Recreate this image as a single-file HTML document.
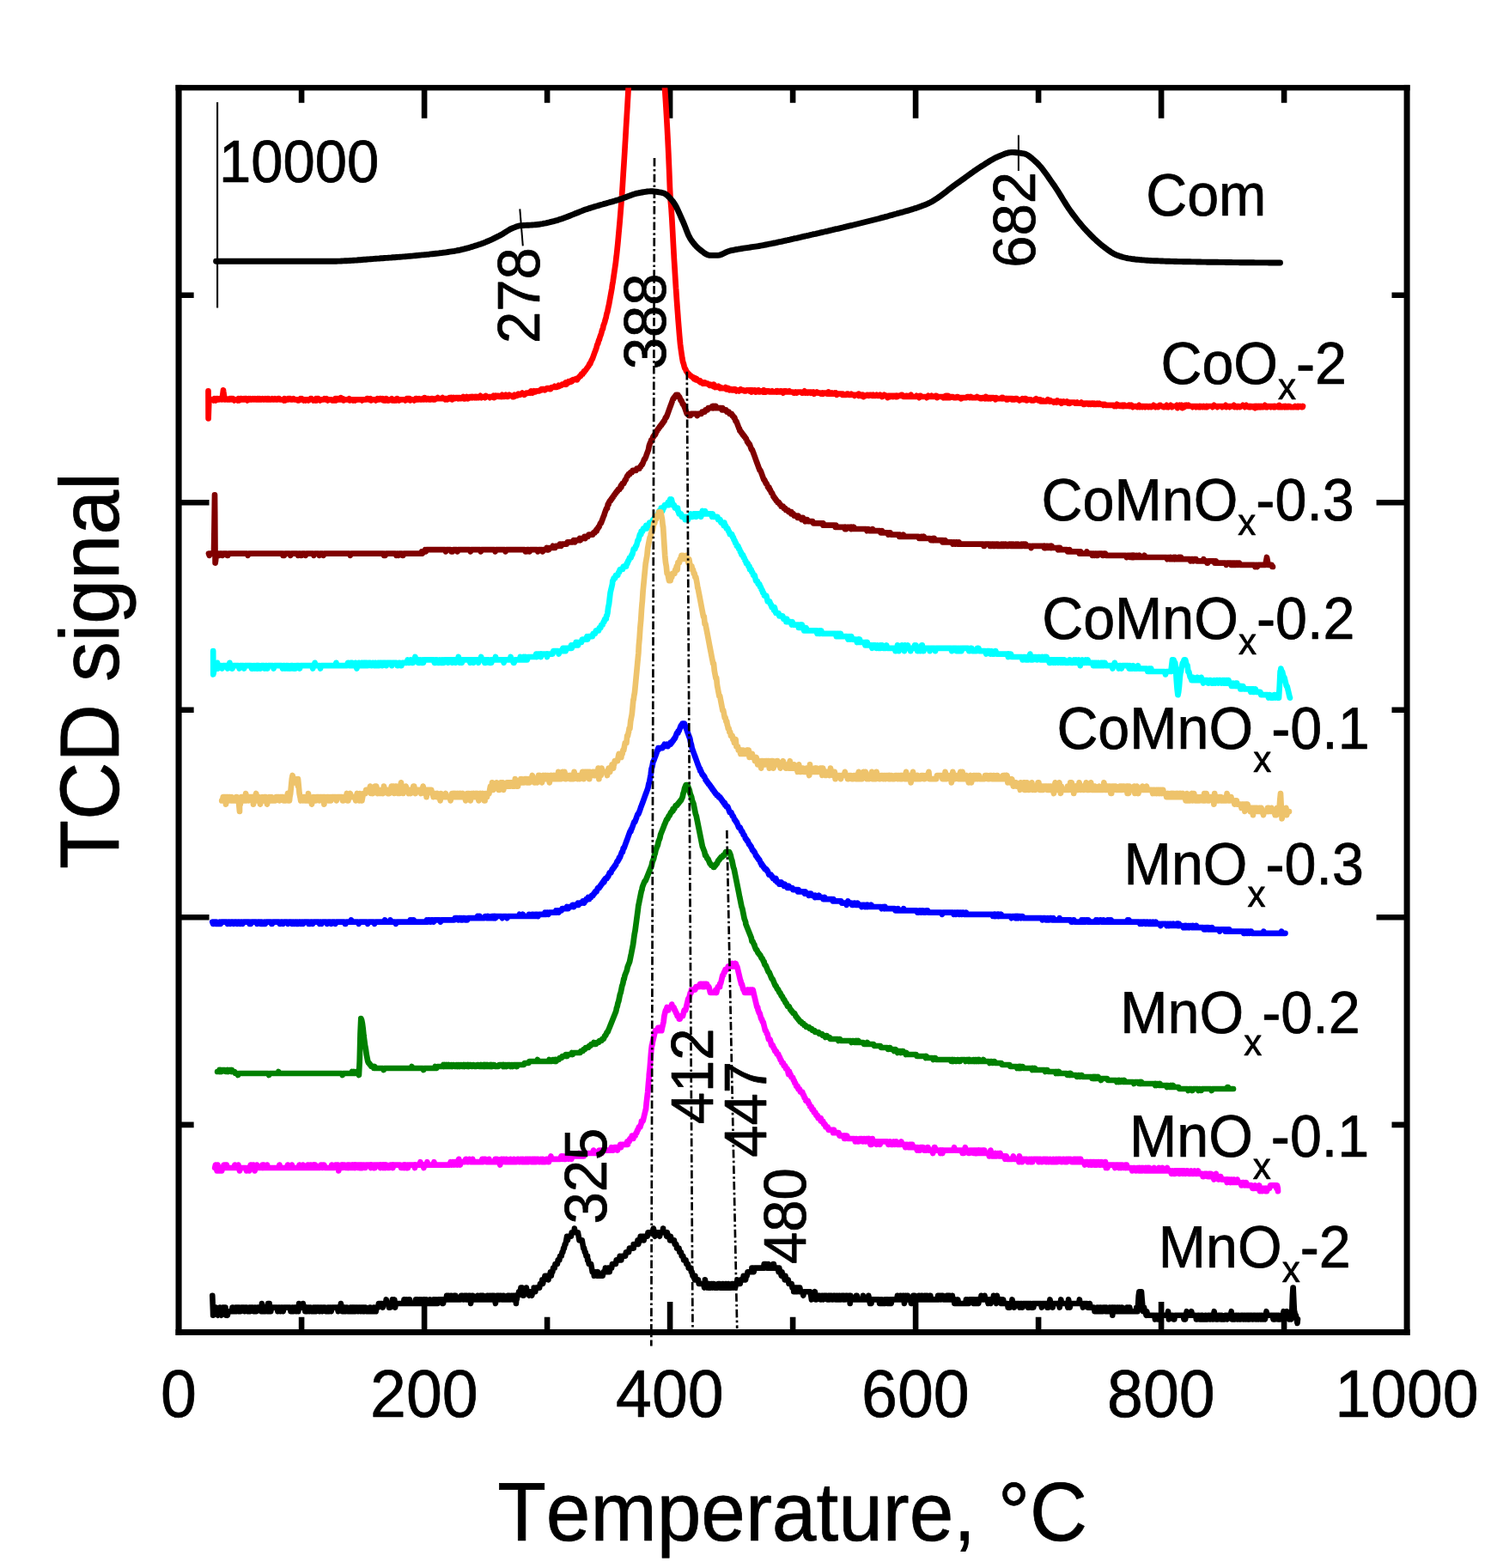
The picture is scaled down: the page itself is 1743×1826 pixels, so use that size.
<!DOCTYPE html>
<html lang="en"><head><meta charset="utf-8"><title>TCD signal vs Temperature</title>
<style>
html,body{margin:0;padding:0;background:#fff;}
body{width:1743px;height:1826px;overflow:hidden;}
svg{display:block;}
</style></head>
<body>
<svg width="1743" height="1826" viewBox="0 0 1743 1826" font-family="'Liberation Sans', sans-serif" fill="#000" style="font-kerning:none" text-rendering="geometricPrecision" stroke-linejoin="round">
<rect x="0" y="0" width="1743" height="1826" fill="#fff"/>
<defs><clipPath id="plot"><rect x="208.05" y="102.15" width="1430.0" height="1449.3"/></clipPath></defs>
<line x1="253.1" y1="119" x2="253.1" y2="358.5" stroke="#000" stroke-width="2.1"/>
<rect x="204.50" y="98.90" width="7.1" height="1456.00"/>
<rect x="1634.60" y="98.90" width="7.0" height="1456.00"/>
<rect x="204.50" y="98.90" width="1437.10" height="6.5"/>
<rect x="204.50" y="1548.00" width="1437.10" height="6.9"/>
<path d="M351.1 102.15 v17.6 M351.1 1551.45 v-17.6 M494.1 102.15 v35.5 M494.1 1551.45 v-35.5 M637.1 102.15 v17.6 M637.1 1551.45 v-17.6 M780.1 102.15 v35.5 M780.1 1551.45 v-35.5 M923.1 102.15 v17.6 M923.1 1551.45 v-17.6 M1066.1 102.15 v35.5 M1066.1 1551.45 v-35.5 M1209.1 102.15 v17.6 M1209.1 1551.45 v-17.6 M1352.1 102.15 v35.5 M1352.1 1551.45 v-35.5 M1495.1 102.15 v17.6 M1495.1 1551.45 v-17.6 M208.05 343.7 h17.6 M1638.1 343.7 h-17.6 M208.05 585.2 h35.5 M1638.1 585.2 h-35.5 M208.05 826.8 h17.6 M1638.1 826.8 h-17.6 M208.05 1068.3 h35.5 M1638.1 1068.3 h-35.5 M208.05 1309.9 h17.6 M1638.1 1309.9 h-17.6" stroke="#000" stroke-width="6.6" fill="none"/>
<g clip-path="url(#plot)">
<polyline points="242.5,455.4 242.6,487.3 243.3,467.5 243.5,465.3 244.1,464.2 244.9,465.3 248.1,465.3 248.9,466.4 249.7,464.2 250.5,465.3 251.3,466.4 252.1,464.2 252.9,465.3 253.7,464.2 254.5,465.3 255.3,465.3 256.1,464.2 257.7,464.2 258.5,465.3 258.5,464.2 259.3,459.8 260.0,454.3 260.1,455.4 260.9,460.9 261.5,465.3 262.5,465.3 263.3,464.2 264.1,465.3 266.5,465.3 267.3,464.2 268.1,465.3 268.9,464.2 269.7,464.2 270.5,465.3 271.3,464.2 272.1,465.3 272.9,466.4 273.7,465.3 276.1,465.3 276.9,466.4 277.7,464.2 278.5,466.4 279.3,465.3 280.1,464.2 280.9,464.2 281.7,465.3 283.3,465.3 284.1,464.2 284.9,465.3 285.7,464.2 286.5,464.2 287.3,465.3 288.1,466.4 288.9,465.3 289.7,464.2 290.5,465.3 291.3,464.2 292.1,465.3 293.7,465.3 294.5,464.2 295.3,465.3 296.1,465.3 296.9,464.2 297.7,465.3 299.3,465.3 300.0,464.2 300.1,465.3 300.9,464.2 301.7,465.3 302.5,464.2 303.3,465.3 304.9,465.3 305.7,464.2 306.5,465.3 308.1,465.3 308.9,464.2 309.7,465.3 310.5,465.3 311.3,464.2 312.1,465.3 312.9,464.2 313.7,465.3 316.1,465.3 316.9,464.2 317.7,465.3 319.3,465.3 320.1,464.2 320.9,465.3 323.3,465.3 324.1,464.2 324.9,464.2 325.7,465.3 329.7,465.3 330.5,466.4 331.3,464.2 332.1,466.4 332.9,465.3 334.5,465.3 335.3,464.2 336.1,465.3 336.9,464.2 337.7,464.2 338.5,465.3 340.9,465.3 341.7,464.2 342.5,465.3 345.7,465.3 346.5,466.4 348.1,466.4 348.9,465.3 349.7,464.2 350.5,465.3 351.3,464.2 352.1,465.3 352.9,465.3 353.7,466.4 354.5,465.3 355.3,465.3 356.1,466.4 356.9,465.3 358.5,465.3 359.3,466.4 360.1,465.3 360.9,465.3 361.7,464.2 362.5,464.2 363.3,465.3 364.1,465.3 364.9,466.4 365.7,465.3 366.5,465.3 367.3,466.4 368.1,464.2 368.9,466.4 369.7,464.2 370.5,464.2 371.3,465.3 372.1,465.3 372.9,466.4 373.7,465.3 376.9,465.3 377.7,464.2 378.5,465.3 379.3,465.3 380.1,464.2 380.9,465.3 381.7,466.4 382.5,465.3 385.7,465.3 386.5,466.4 389.7,466.4 390.5,464.2 391.3,466.4 392.1,464.2 392.9,465.3 393.7,464.2 394.5,465.3 396.1,465.3 396.9,463.1 397.7,465.3 398.5,465.3 399.3,464.2 400.1,466.4 400.9,465.3 405.7,465.3 406.5,464.2 407.3,466.4 408.1,465.3 410.5,465.3 411.3,466.4 412.1,465.3 412.9,465.3 413.7,466.4 414.5,465.3 420.9,465.3 421.7,466.4 422.5,465.3 426.5,465.3 427.3,464.2 428.1,464.2 428.9,465.3 430.5,465.3 431.3,464.2 432.1,466.4 432.9,465.3 436.9,465.3 437.7,466.4 438.5,465.3 439.3,464.2 440.1,465.3 441.7,465.3 442.5,464.2 443.3,464.2 444.1,465.3 444.9,465.3 445.7,464.2 446.5,466.4 447.3,466.4 448.1,465.3 448.9,466.4 449.7,464.2 450.0,465.3 450.5,465.3 451.3,466.4 452.1,465.3 452.9,466.4 453.7,465.3 455.3,465.3 456.1,464.2 456.9,466.4 457.7,465.3 458.5,465.3 459.3,466.4 460.1,465.3 460.9,466.4 461.7,466.4 462.5,464.2 463.3,465.3 464.1,465.3 464.9,466.4 465.7,465.3 471.3,465.3 472.1,466.4 472.9,465.3 473.7,464.2 474.5,464.2 475.3,465.3 476.1,464.2 476.9,464.2 477.7,466.4 478.5,465.3 481.7,465.3 482.5,466.4 483.3,465.3 484.1,464.2 484.9,464.2 485.7,465.3 487.3,465.3 488.1,464.2 488.9,465.3 491.3,465.3 492.1,464.2 492.9,465.3 493.7,465.3 494.5,463.1 495.3,464.2 496.1,465.3 496.9,465.3 497.7,464.2 498.5,464.2 499.3,465.3 501.7,465.3 502.5,464.2 503.3,464.2 504.1,465.3 506.5,465.3 507.3,464.2 508.9,464.2 509.7,463.1 510.5,464.2 514.5,464.2 515.3,463.1 516.1,464.2 517.7,464.2 518.5,465.3 519.3,464.2 520.1,464.2 520.9,465.3 521.7,464.2 522.5,464.2 523.3,463.1 524.1,463.1 524.9,464.2 525.7,463.1 526.5,465.3 527.3,464.2 528.1,463.1 528.9,464.2 529.7,464.2 530.5,463.1 532.9,463.1 533.7,464.2 534.5,463.1 535.3,463.1 536.1,464.2 536.9,464.2 537.7,463.1 538.5,463.1 539.3,462.0 540.1,464.2 540.9,463.1 541.7,464.2 542.5,463.1 543.3,462.0 544.1,463.1 544.9,464.2 545.7,463.1 546.5,463.1 547.3,462.0 548.1,462.0 548.9,463.1 549.7,462.0 550.5,463.1 551.3,462.0 552.1,462.0 552.9,463.1 553.7,462.0 554.5,463.1 555.3,462.0 556.1,463.1 557.7,463.1 558.5,462.0 559.3,460.9 560.0,463.1 560.1,462.0 560.9,463.1 561.7,462.0 564.1,462.0 564.9,463.1 565.7,460.9 566.5,462.0 569.7,462.0 570.5,463.1 571.3,462.0 573.7,462.0 574.5,460.9 575.3,463.1 576.1,462.0 576.9,460.9 577.7,462.0 578.5,460.9 580.1,460.9 580.9,462.0 581.7,462.0 582.5,460.9 583.3,460.9 584.1,462.0 584.9,459.8 585.7,460.9 586.5,462.0 587.3,462.0 588.1,460.9 588.9,459.8 589.7,460.9 590.5,462.0 591.3,462.0 592.1,460.9 592.9,459.8 593.7,460.9 596.1,460.9 596.9,462.0 597.7,460.9 598.5,462.0 599.3,459.8 600.1,460.9 601.6,460.9 601.7,459.8 602.5,459.8 603.3,458.7 604.1,459.8 605.7,459.8 606.5,458.7 607.3,458.7 608.1,457.6 608.9,458.7 609.7,458.7 610.5,459.8 611.3,458.7 612.1,458.7 612.9,457.6 616.1,457.6 616.9,456.5 617.7,457.6 618.5,455.4 619.3,456.5 620.1,457.6 620.9,456.5 621.7,455.4 622.5,456.5 623.3,456.5 624.1,455.4 628.1,455.4 628.9,454.3 630.3,454.3 630.5,453.2 633.7,453.2 634.5,454.3 635.3,453.2 636.1,453.2 636.9,452.1 639.3,452.1 640.1,453.2 640.9,453.2 641.7,452.1 642.5,451.0 644.9,451.0 645.7,449.9 646.5,451.0 648.1,451.0 648.9,449.9 650.0,449.9 650.5,448.8 651.3,449.9 652.1,448.8 653.7,448.8 654.5,447.7 656.9,447.7 657.7,446.6 658.5,445.5 659.3,447.7 660.1,446.6 660.9,445.5 661.7,444.4 662.0,445.5 662.5,445.5 663.3,444.4 664.1,444.4 664.9,443.3 665.7,444.4 666.5,443.3 667.3,442.2 669.7,442.2 670.5,441.1 671.3,441.1 672.1,442.2 672.9,440.0 673.7,440.0 674.5,438.9 675.3,437.8 676.1,437.8 676.9,435.6 678.5,435.6 679.3,433.4 680.0,433.4 680.1,432.3 680.9,432.3 681.7,431.2 682.5,430.1 683.3,429.0 684.1,427.9 684.9,426.8 685.7,425.7 686.5,423.5 687.3,423.5 687.4,422.4 688.1,421.3 688.9,419.1 689.7,418.0 690.5,415.8 691.3,413.6 692.1,411.4 692.9,409.2 693.0,409.2 693.7,407.0 694.5,404.8 695.3,401.5 696.1,400.4 696.9,397.1 697.7,394.9 697.7,396.0 698.5,392.7 699.3,390.5 700.1,388.3 700.9,385.0 701.7,382.8 702.0,382.8 702.5,379.5 703.3,377.3 704.1,375.1 704.9,371.8 705.7,369.6 706.0,367.4 706.5,365.2 707.3,363.0 708.1,358.6 708.9,355.3 709.5,352.0 709.7,350.9 710.5,346.5 711.3,342.1 712.1,337.7 712.5,335.5 712.9,332.2 713.7,327.8 714.5,322.3 715.3,316.8 716.1,311.3 716.9,305.8 717.7,298.1 717.7,299.2 718.5,291.5 719.3,283.8 720.1,275.0 720.9,266.2 721.0,265.1 721.7,257.4 722.5,247.5 723.3,237.6 723.9,229.9 724.1,227.7 724.9,215.6 725.7,202.4 726.5,190.3 727.3,177.1 728.0,165.0 728.1,163.9 728.9,149.6 729.7,136.4 730.5,123.2 731.3,108.9 732.0,95.7" fill="none" stroke="#ff0000" stroke-width="6.7" stroke-linejoin="round" stroke-linecap="round"/>
<polyline points="773.5,95.7 774.3,106.7 775.1,118.8 775.9,132.0 776.7,146.3 777.5,161.7 778.3,178.2 778.4,180.4 779.1,196.9 779.9,217.8 780.5,229.9 780.7,233.2 781.5,242.0 781.6,243.1 782.3,254.1 783.1,268.4 783.9,283.8 784.7,298.1 784.8,300.3 785.5,311.3 786.3,324.5 787.0,335.5 787.1,336.6 787.9,348.7 788.7,359.7 789.3,367.4 789.5,370.7 790.3,380.6 791.1,390.5 791.9,399.3 792.0,400.4 792.7,405.9 793.5,411.4 794.3,416.9 795.1,421.3 795.5,422.4 795.9,423.5 796.7,426.8 797.5,429.0 798.3,430.1 799.1,432.3 799.9,433.4 800.0,433.4 800.7,434.5 801.5,435.6 802.3,435.6 803.1,436.7 803.9,437.8 804.7,437.8 805.5,438.9 806.5,438.9 807.1,440.0 807.9,441.1 808.7,440.0 809.5,441.1 810.3,442.2 811.1,441.1 811.9,442.2 812.7,443.3 813.5,443.3 814.3,444.4 815.1,443.3 815.9,445.5 817.5,445.5 818.3,446.6 819.1,445.5 819.9,446.6 820.7,446.6 820.9,445.5 821.5,446.6 823.9,446.6 824.7,447.7 825.5,447.7 826.3,448.8 827.1,447.7 827.9,448.8 829.5,448.8 830.3,449.9 831.1,447.7 831.9,449.9 832.7,451.0 833.5,449.9 834.3,449.9 835.1,451.0 835.9,451.0 836.7,449.9 837.5,451.0 838.3,452.1 839.1,451.0 839.9,452.1 843.9,452.1 844.7,451.0 845.5,453.2 846.3,452.1 847.1,453.2 847.9,452.1 848.7,453.2 849.5,454.3 850.3,453.2 851.1,453.2 851.9,454.3 853.5,454.3 854.3,453.2 855.1,454.3 855.9,453.2 856.7,454.3 857.5,455.4 858.2,454.3 859.9,454.3 860.7,455.4 861.5,454.3 862.3,453.2 863.1,454.3 865.5,454.3 866.3,455.4 868.7,455.4 869.5,454.3 871.9,454.3 872.7,455.4 873.5,454.3 874.3,455.4 875.1,456.5 875.9,454.3 876.7,455.4 877.5,455.4 878.3,454.3 879.1,454.3 879.9,456.5 880.7,455.4 882.3,455.4 883.1,454.3 883.9,456.5 884.7,456.5 885.5,455.4 887.9,455.4 888.7,456.5 889.5,454.3 890.3,456.5 891.1,455.4 891.9,456.5 892.7,455.4 895.1,455.4 895.9,456.5 898.3,456.5 899.1,455.4 899.9,456.5 903.1,456.5 903.9,455.4 904.7,456.5 905.5,455.4 906.3,456.5 907.9,456.5 908.7,455.4 909.5,455.4 910.3,456.5 911.1,456.5 911.9,457.6 912.7,455.4 915.1,455.4 915.9,456.5 918.3,456.5 919.1,455.4 919.9,456.5 923.1,456.5 923.9,457.6 925.5,457.6 926.3,456.5 927.1,457.6 927.9,457.6 928.7,456.5 932.7,456.5 933.5,457.6 935.1,457.6 935.9,456.5 936.7,455.4 937.5,457.6 938.3,457.6 939.1,456.5 939.9,456.5 940.7,457.6 941.5,456.5 943.1,456.5 943.9,457.6 944.2,456.5 944.7,456.5 945.5,457.6 946.3,457.6 947.1,456.5 947.9,458.7 948.7,457.6 950.3,457.6 951.1,456.5 951.9,457.6 955.1,457.6 955.9,458.7 956.7,458.7 957.5,457.6 958.3,458.7 959.1,457.6 962.3,457.6 963.1,458.7 963.9,458.7 964.7,456.5 965.5,458.7 966.3,457.6 967.1,458.7 967.9,458.7 968.7,457.6 969.5,458.7 971.1,458.7 971.9,457.6 972.7,458.7 973.5,457.6 974.3,459.8 975.1,458.7 979.9,458.7 980.7,459.8 981.5,458.7 982.3,459.8 985.5,459.8 986.3,458.7 987.1,458.7 987.9,459.8 990.3,459.8 991.1,458.7 991.9,459.8 994.3,459.8 995.1,460.9 995.9,459.8 999.1,459.8 999.9,460.9 1000.0,458.7 1000.7,459.8 1001.5,459.8 1002.3,460.9 1003.1,459.8 1003.9,460.9 1004.7,459.8 1005.5,462.0 1006.3,460.9 1008.7,460.9 1009.5,459.8 1010.3,459.8 1011.1,460.9 1011.9,460.9 1012.7,459.8 1014.3,459.8 1015.1,460.9 1015.9,460.9 1016.7,459.8 1017.5,460.9 1019.9,460.9 1020.7,459.8 1021.5,460.9 1023.9,460.9 1024.7,459.8 1025.5,460.9 1026.3,460.9 1027.1,462.0 1027.9,460.9 1028.7,460.9 1029.5,459.8 1030.3,460.9 1032.7,460.9 1033.5,463.1 1034.3,460.9 1035.9,460.9 1036.7,462.0 1037.5,460.9 1039.1,460.9 1039.9,462.0 1040.7,460.9 1042.3,460.9 1043.1,462.0 1043.9,460.9 1044.7,462.0 1045.5,460.9 1048.7,460.9 1049.5,459.8 1050.3,459.8 1051.1,460.9 1051.9,462.0 1054.3,462.0 1055.1,460.9 1055.9,460.9 1056.7,462.0 1058.3,462.0 1059.1,460.9 1059.9,460.9 1060.7,459.8 1061.5,462.0 1066.3,462.0 1067.1,460.9 1067.9,462.0 1069.5,462.0 1070.3,463.1 1071.1,460.9 1071.9,460.9 1072.7,462.0 1078.3,462.0 1079.1,463.1 1079.9,462.0 1080.7,460.9 1081.5,462.0 1083.9,462.0 1084.7,460.9 1085.5,462.0 1088.7,462.0 1089.5,460.9 1090.3,460.9 1091.1,463.1 1091.9,462.0 1097.5,462.0 1098.3,463.1 1099.1,462.0 1099.9,463.1 1100.7,463.1 1101.5,460.9 1102.3,463.1 1103.1,463.1 1103.9,460.9 1104.7,463.1 1106.3,463.1 1107.1,462.0 1109.5,462.0 1110.3,463.1 1113.5,463.1 1114.3,462.0 1115.1,462.0 1115.9,463.1 1118.3,463.1 1119.1,464.2 1119.9,463.1 1125.5,463.1 1126.3,462.0 1127.9,462.0 1128.7,463.1 1129.5,463.1 1130.3,462.0 1131.1,463.1 1136.7,463.1 1137.5,462.0 1138.3,463.1 1140.7,463.1 1141.5,464.2 1143.1,464.2 1143.9,463.1 1146.3,463.1 1147.1,464.2 1147.9,462.0 1148.7,464.2 1149.5,464.2 1150.3,463.1 1151.1,464.2 1151.9,463.1 1152.7,463.1 1153.5,464.2 1154.3,463.1 1156.7,463.1 1157.5,464.2 1158.3,464.2 1159.1,465.3 1159.9,463.1 1160.7,464.2 1165.5,464.2 1166.3,463.1 1167.1,464.2 1167.9,463.1 1168.7,464.2 1171.1,464.2 1171.9,465.3 1172.0,464.2 1172.7,464.2 1173.5,465.3 1174.3,464.2 1177.5,464.2 1178.3,465.3 1179.1,464.2 1179.9,465.3 1181.5,465.3 1182.3,464.2 1183.9,464.2 1184.7,465.3 1186.3,465.3 1187.1,466.4 1187.9,465.3 1189.5,465.3 1190.3,464.2 1191.1,465.3 1192.7,465.3 1193.5,464.2 1194.3,464.2 1195.1,466.4 1195.9,466.4 1196.7,465.3 1199.9,465.3 1200.7,466.4 1203.9,466.4 1204.7,465.3 1205.5,465.3 1206.3,464.2 1207.1,465.3 1207.9,465.3 1208.7,466.4 1209.5,466.4 1210.3,465.3 1211.1,465.3 1211.9,467.5 1212.7,467.5 1213.5,466.4 1214.3,466.4 1215.1,467.5 1218.3,467.5 1219.1,466.4 1219.9,465.3 1220.7,466.4 1221.5,466.4 1222.3,467.5 1223.1,466.4 1223.9,467.5 1226.3,467.5 1227.1,468.6 1227.9,467.5 1229.5,467.5 1230.3,468.6 1231.1,466.4 1231.9,467.5 1233.5,467.5 1234.3,468.6 1235.1,467.5 1235.9,469.7 1236.7,468.6 1237.5,468.6 1238.3,467.5 1239.1,468.6 1241.5,468.6 1242.3,467.5 1243.1,468.6 1243.8,468.6 1243.9,469.7 1244.7,468.6 1245.5,469.7 1246.3,468.6 1251.1,468.6 1251.9,469.7 1253.5,469.7 1254.3,468.6 1255.1,469.7 1258.3,469.7 1259.1,468.6 1259.9,469.7 1260.7,469.7 1261.5,470.8 1262.3,469.7 1263.1,470.8 1263.9,469.7 1266.3,469.7 1267.1,470.8 1267.9,470.8 1268.7,469.7 1269.5,470.8 1270.3,470.8 1271.1,469.7 1272.7,469.7 1273.5,470.8 1274.3,469.7 1275.1,470.8 1276.7,470.8 1277.5,469.7 1278.3,470.8 1279.1,470.8 1279.9,469.7 1280.7,470.8 1283.9,470.8 1284.7,471.9 1285.5,470.8 1286.3,470.8 1287.1,471.9 1296.7,471.9 1297.5,473.0 1298.3,471.9 1299.1,471.9 1299.9,473.0 1300.7,470.8 1301.5,471.9 1303.1,471.9 1303.9,473.0 1304.7,473.0 1305.5,471.9 1306.3,471.9 1307.1,473.0 1307.9,471.9 1308.7,473.0 1309.5,471.9 1310.3,473.0 1313.5,473.0 1314.3,471.9 1315.1,473.0 1315.9,471.9 1316.7,473.0 1317.5,471.9 1318.3,473.0 1319.1,474.1 1319.9,473.0 1323.1,473.0 1323.9,474.1 1324.7,474.1 1325.5,473.0 1326.3,471.9 1327.1,474.1 1327.9,473.0 1330.0,473.0 1330.3,474.1 1331.1,473.0 1332.7,473.0 1333.5,474.1 1334.3,473.0 1335.9,473.0 1336.7,474.1 1337.5,474.1 1338.3,473.0 1339.1,473.0 1339.9,474.1 1340.7,474.1 1341.5,473.0 1342.3,473.0 1343.1,471.9 1343.9,473.0 1344.7,473.0 1345.5,474.1 1346.3,473.0 1347.1,473.0 1347.9,474.1 1348.7,474.1 1349.5,473.0 1350.3,471.9 1351.1,471.9 1351.9,473.0 1353.5,473.0 1354.3,474.1 1355.9,474.1 1356.7,473.0 1357.5,473.0 1358.3,471.9 1359.1,474.1 1359.9,473.0 1360.7,474.1 1361.5,473.0 1362.3,473.0 1363.1,471.9 1363.9,473.0 1364.7,474.1 1365.5,473.0 1369.5,473.0 1370.3,471.9 1371.1,475.2 1371.9,473.0 1372.7,473.0 1373.5,471.9 1374.3,473.0 1375.1,473.0 1375.9,471.9 1376.7,475.2 1377.5,473.0 1378.3,473.0 1379.1,474.1 1379.9,471.9 1380.7,473.0 1381.5,471.9 1382.3,473.0 1383.1,473.0 1383.9,471.9 1384.7,473.0 1387.9,473.0 1388.7,474.1 1389.5,473.0 1391.9,473.0 1392.7,474.1 1393.5,473.0 1394.3,473.0 1395.1,474.1 1395.9,474.1 1396.7,473.0 1397.5,474.1 1398.3,473.0 1399.1,473.0 1399.9,474.1 1400.7,474.1 1401.5,473.0 1402.3,474.1 1403.9,474.1 1404.7,473.0 1405.5,474.1 1406.3,473.0 1411.1,473.0 1411.9,474.1 1412.7,473.0 1413.5,471.9 1414.3,473.0 1416.7,473.0 1417.5,474.1 1418.3,473.0 1422.3,473.0 1423.1,474.1 1423.9,473.0 1426.3,473.0 1427.1,471.9 1427.9,474.1 1428.7,473.0 1431.1,473.0 1431.9,474.1 1432.7,473.0 1435.9,473.0 1436.7,471.9 1437.5,474.1 1438.3,473.0 1439.9,473.0 1440.7,474.1 1441.5,473.0 1442.3,473.0 1443.1,474.1 1443.9,474.1 1444.7,473.0 1446.3,473.0 1447.1,471.9 1447.9,473.0 1448.7,473.0 1449.5,474.1 1450.3,473.0 1451.1,471.9 1451.9,473.0 1452.7,473.0 1453.5,474.1 1454.3,474.1 1455.1,473.0 1455.9,474.1 1456.7,473.0 1457.5,473.0 1458.3,474.1 1459.1,474.1 1459.9,473.0 1460.7,473.0 1461.5,475.2 1462.3,473.0 1463.1,474.1 1463.9,473.0 1464.7,474.1 1465.5,473.0 1466.3,474.1 1467.1,473.0 1467.9,474.1 1468.7,473.0 1469.5,474.1 1471.1,474.1 1471.9,473.0 1472.7,471.9 1473.5,473.0 1474.3,474.1 1475.1,473.0 1475.9,474.1 1476.7,473.0 1479.1,473.0 1479.9,474.1 1480.7,473.0 1482.3,473.0 1483.1,474.1 1483.9,473.0 1484.7,474.1 1485.5,473.0 1487.1,473.0 1487.9,474.1 1488.7,474.1 1489.5,471.9 1490.3,474.1 1491.1,473.0 1491.9,474.1 1493.5,474.1 1494.3,473.0 1495.1,473.0 1495.9,474.1 1496.7,473.0 1497.5,474.1 1498.3,474.1 1499.1,473.0 1499.9,473.0 1500.0,474.1 1500.7,473.0 1501.5,473.0 1502.3,474.1 1507.1,474.1 1507.9,473.0 1508.7,474.1 1510.3,474.1 1511.1,473.0 1511.9,474.1 1512.7,473.0 1514.3,473.0 1515.1,474.1 1516.7,474.1 1517.0,473.0" fill="none" stroke="#ff0000" stroke-width="6.7" stroke-linejoin="round" stroke-linecap="round"/>

<polyline points="251.6,304.2 386.5,304.2 387.6,304.2 389.6,304.2 391.6,304.2 393.6,304.1 395.6,304.1 397.6,304.0 399.6,303.9 401.6,303.8 403.6,303.7 405.6,303.6 407.6,303.5 409.6,303.4 411.6,303.2 413.6,303.1 415.6,303.0 417.6,302.8 419.6,302.7 421.6,302.5 423.6,302.3 425.6,302.2 427.6,302.0 429.6,301.9 431.6,301.7 433.6,301.6 435.6,301.4 437.6,301.2 439.6,301.1 441.6,301.0 443.6,300.8 443.8,300.8 445.6,300.7 447.6,300.5 449.6,300.4 451.6,300.3 453.6,300.1 455.6,300.0 457.6,299.8 459.6,299.7 461.6,299.5 463.6,299.4 465.6,299.2 467.6,299.1 469.6,298.9 471.6,298.8 473.6,298.6 475.6,298.4 477.6,298.2 479.6,298.1 481.6,297.9 483.6,297.7 485.6,297.5 486.9,297.4 487.6,297.3 489.6,297.1 491.6,296.9 493.6,296.8 495.6,296.6 497.6,296.4 499.6,296.2 501.6,295.9 503.6,295.7 505.6,295.5 507.6,295.3 509.6,295.1 511.6,294.8 513.6,294.6 515.6,294.3 517.6,294.1 519.6,293.8 521.6,293.5 523.6,293.2 525.6,292.9 527.6,292.6 529.6,292.3 529.9,292.2 531.6,291.9 533.6,291.5 535.6,291.1 537.6,290.6 539.6,290.2 541.6,289.6 543.6,289.1 545.6,288.6 547.6,288.0 549.6,287.4 551.6,286.8 553.6,286.1 555.6,285.5 557.6,284.8 558.6,284.5 559.6,284.2 561.6,283.4 563.6,282.7 565.6,281.9 567.6,281.0 569.6,280.2 571.6,279.3 573.6,278.4 575.6,277.4 577.6,276.4 579.6,275.4 581.5,274.5 581.6,274.4 583.6,273.4 585.6,272.2 587.6,270.9 589.6,269.6 591.6,268.4 593.6,267.2 595.6,266.2 596.6,265.8 597.6,265.4 599.6,264.6 601.6,263.8 603.6,263.2 605.6,262.8 606.0,262.8 607.6,262.6 609.6,262.5 611.6,262.4 613.6,262.3 615.6,262.2 617.6,262.1 619.6,262.0 621.6,261.9 623.0,261.8 623.6,261.7 625.6,261.5 627.6,261.3 629.6,260.9 631.6,260.6 633.6,260.2 635.6,259.8 637.6,259.3 639.6,258.9 641.6,258.4 643.6,257.9 644.0,257.8 645.6,257.4 647.6,256.8 649.6,256.3 651.6,255.6 653.6,254.9 655.6,254.2 657.6,253.5 659.6,252.8 661.6,252.0 663.6,251.2 665.6,250.4 667.6,249.6 669.6,248.8 671.6,248.0 673.6,247.2 675.6,246.4 677.6,245.6 679.6,244.8 681.6,244.1 683.6,243.4 685.6,242.7 686.0,242.6 687.6,242.1 689.6,241.5 691.6,240.9 693.6,240.3 695.6,239.7 697.6,239.1 699.6,238.5 701.6,238.0 703.6,237.4 705.6,236.9 707.6,236.3 709.6,235.7 711.6,235.2 713.6,234.6 715.6,234.0 717.6,233.4 719.6,232.8 720.5,232.5 721.6,232.1 723.6,231.5 725.6,230.7 727.6,230.0 729.6,229.2 731.6,228.4 733.6,227.7 735.6,227.0 737.6,226.3 739.6,225.7 741.6,225.2 743.4,224.8 743.6,224.8 745.6,224.4 747.6,224.0 749.6,223.6 751.6,223.3 753.6,223.0 755.6,222.9 757.6,222.8 757.8,222.8 759.6,222.8 761.6,223.0 763.6,223.2 765.6,223.5 767.6,223.8 769.6,224.2 771.6,224.7 772.1,224.8 773.6,225.3 775.6,226.5 777.6,228.2 779.6,230.2 781.6,232.4 783.6,234.8 785.6,237.7 787.6,241.3 789.6,245.5 791.6,249.9 793.6,254.5 795.1,257.8 795.6,258.9 797.6,263.8 799.6,269.0 801.6,273.9 803.6,277.7 803.7,277.9 805.6,280.7 807.6,283.3 809.6,285.7 811.6,287.8 813.6,289.6 815.1,290.8 815.6,291.2 817.6,292.8 819.6,294.3 821.6,295.7 823.6,296.7 825.6,297.3 826.6,297.4 835.2,297.4 835.6,297.4 837.6,297.1 839.6,296.5 841.6,295.6 843.6,294.7 845.6,293.7 847.6,292.8 849.6,292.2 851.6,291.7 853.6,291.3 855.6,290.9 857.6,290.5 859.6,290.2 861.6,289.8 863.6,289.5 865.6,289.2 867.6,288.9 869.6,288.6 871.6,288.3 873.6,288.0 875.6,287.7 877.6,287.4 879.6,287.1 881.6,286.8 883.6,286.5 885.6,286.1 886.9,285.9 887.6,285.8 889.6,285.4 891.6,285.0 893.6,284.6 895.6,284.2 897.6,283.8 899.6,283.4 901.6,283.0 903.6,282.6 905.6,282.1 907.6,281.7 909.6,281.3 911.6,280.8 913.6,280.4 915.6,280.0 917.6,279.5 919.6,279.1 921.6,278.6 923.6,278.2 925.6,277.7 927.6,277.3 929.6,276.8 931.6,276.4 933.6,275.9 935.6,275.4 937.6,275.0 939.6,274.5 941.6,274.1 943.6,273.6 944.2,273.5 945.6,273.2 947.6,272.7 949.6,272.3 951.6,271.8 953.6,271.4 955.6,270.9 957.6,270.5 959.6,270.0 961.6,269.5 963.6,269.1 965.6,268.6 967.6,268.1 969.6,267.7 971.6,267.2 973.6,266.7 975.6,266.3 977.6,265.8 979.6,265.3 981.6,264.9 983.6,264.4 985.6,263.9 987.6,263.4 989.6,262.9 991.6,262.5 993.6,262.0 995.6,261.5 997.6,261.0 999.6,260.5 1001.6,260.0 1003.6,259.5 1005.6,259.0 1007.6,258.5 1009.6,258.0 1011.6,257.5 1013.6,257.0 1015.6,256.5 1017.6,256.0 1019.6,255.5 1021.6,255.0 1023.6,254.5 1025.6,253.9 1027.6,253.4 1029.6,252.9 1031.6,252.3 1033.6,251.8 1035.6,251.2 1037.6,250.7 1039.6,250.1 1040.0,250.0 1041.6,249.5 1043.6,249.0 1045.6,248.4 1047.6,247.9 1049.6,247.3 1051.6,246.8 1053.6,246.2 1055.6,245.7 1057.6,245.1 1059.6,244.5 1061.6,243.9 1063.6,243.3 1065.6,242.6 1067.6,242.0 1069.6,241.3 1071.6,240.6 1073.6,239.8 1075.6,239.1 1077.6,238.3 1079.6,237.4 1080.3,237.1 1081.6,236.5 1083.6,235.5 1085.6,234.4 1087.6,233.2 1089.6,231.9 1091.6,230.6 1093.6,229.2 1095.6,227.7 1097.6,226.2 1099.6,224.7 1101.6,223.2 1103.6,221.6 1105.6,220.1 1107.6,218.5 1109.6,217.0 1111.6,215.5 1113.6,214.1 1114.7,213.3 1115.6,212.7 1117.6,211.3 1119.6,209.8 1121.6,208.4 1123.6,206.9 1125.6,205.5 1127.6,204.0 1129.6,202.6 1131.6,201.2 1133.6,199.7 1135.6,198.3 1137.6,197.0 1139.6,195.6 1141.6,194.3 1143.4,193.2 1143.6,193.1 1145.6,191.8 1147.6,190.5 1149.6,189.3 1151.6,188.0 1153.6,186.8 1155.6,185.7 1157.6,184.6 1159.6,183.5 1161.6,182.6 1163.5,181.8 1163.6,181.8 1165.6,180.9 1167.6,180.1 1169.6,179.3 1171.6,178.6 1173.6,178.0 1175.6,177.6 1177.6,177.4 1177.9,177.4 1179.6,177.4 1181.6,177.5 1183.6,177.7 1185.6,177.9 1187.6,178.1 1189.6,178.5 1191.6,178.8 1192.2,178.9 1193.6,179.3 1195.6,180.1 1197.6,181.4 1199.6,182.8 1201.6,184.5 1203.6,186.3 1205.6,188.1 1206.5,188.9 1207.6,189.9 1209.6,192.0 1211.6,194.2 1213.6,196.7 1215.6,199.3 1217.6,202.0 1219.6,204.8 1221.6,207.7 1223.6,210.6 1225.6,213.4 1226.5,214.7 1227.6,216.3 1229.6,219.3 1231.6,222.4 1233.6,225.6 1235.6,228.9 1237.6,232.2 1239.6,235.4 1241.6,238.6 1243.6,241.7 1245.6,244.6 1246.8,246.3 1247.6,247.4 1249.6,250.1 1251.6,252.7 1253.6,255.3 1255.6,257.8 1257.6,260.2 1259.6,262.6 1261.6,264.9 1263.6,267.2 1265.6,269.3 1266.9,270.7 1267.6,271.4 1269.6,273.5 1271.6,275.5 1273.6,277.5 1275.6,279.3 1277.6,281.2 1279.6,282.9 1281.6,284.6 1283.6,286.2 1284.0,286.5 1285.6,287.7 1287.6,289.3 1289.6,290.8 1291.6,292.2 1293.6,293.6 1295.6,294.8 1297.6,295.9 1299.6,296.8 1300.5,297.2 1301.6,297.6 1303.6,298.3 1305.6,298.9 1307.6,299.5 1309.6,300.0 1311.6,300.5 1313.6,300.9 1315.6,301.2 1317.0,301.4 1317.6,301.5 1319.6,301.7 1321.6,302.0 1323.6,302.2 1325.6,302.4 1327.6,302.6 1329.6,302.8 1331.6,302.9 1333.6,303.1 1335.6,303.2 1337.6,303.4 1339.6,303.5 1341.6,303.6 1343.6,303.7 1344.2,303.7 1345.6,303.8 1347.6,303.8 1349.6,303.9 1351.6,304.0 1353.6,304.0 1355.6,304.1 1357.6,304.2 1359.6,304.2 1361.6,304.3 1363.6,304.4 1365.6,304.4 1367.6,304.5 1369.6,304.5 1371.6,304.6 1373.6,304.6 1375.6,304.6 1377.6,304.7 1379.6,304.7 1381.6,304.8 1383.6,304.8 1385.6,304.8 1387.6,304.9 1389.6,304.9 1391.6,304.9 1393.6,305.0 1395.6,305.0 1397.6,305.0 1399.6,305.1 1401.6,305.1 1403.6,305.1 1405.6,305.2 1407.6,305.2 1409.6,305.2 1411.6,305.2 1413.6,305.3 1415.6,305.3 1417.6,305.3 1419.6,305.4 1421.6,305.4 1423.6,305.4 1425.6,305.4 1427.6,305.5 1429.6,305.5 1431.6,305.5 1433.6,305.5 1435.6,305.6 1437.6,305.6 1439.6,305.6 1441.6,305.6 1443.6,305.7 1445.6,305.7 1447.6,305.7 1449.6,305.7 1451.6,305.8 1453.6,305.8 1455.6,305.8 1457.6,305.8 1459.6,305.8 1461.6,305.9 1463.6,305.9 1465.6,305.9 1467.6,305.9 1469.6,305.9 1471.6,305.9 1473.6,305.9 1475.6,305.9 1477.6,306.0 1479.6,306.0 1481.6,306.0 1483.6,306.0 1485.6,306.0 1487.6,306.0 1489.6,306.0 1490.5,306.0" fill="none" stroke="#000000" stroke-width="6.9" stroke-linejoin="round" stroke-linecap="round"/>

<polyline points="243.0,644.6 243.8,646.8 244.6,644.6 249.0,644.6 249.4,620.4 250.0,576.4 250.2,596.2 250.6,655.6 251.0,653.4 251.8,644.6 254.2,644.6 255.0,646.8 255.8,644.6 258.2,644.6 259.0,646.8 259.8,644.6 263.8,644.6 264.6,646.8 265.4,646.8 266.2,644.6 287.8,644.6 288.6,646.8 289.4,644.6 328.6,644.6 329.4,646.8 330.2,644.6 331.0,646.8 331.8,644.6 337.4,644.6 338.2,646.8 339.0,644.6 346.2,644.6 347.0,646.8 347.8,644.6 349.4,644.6 350.2,646.8 351.0,646.8 351.8,644.6 355.0,644.6 355.8,646.8 356.6,644.6 364.6,644.6 365.4,646.8 366.2,644.6 371.0,644.6 371.8,646.8 372.6,644.6 375.8,644.6 376.6,646.8 377.4,644.6 407.0,644.6 407.8,646.8 408.6,644.6 446.2,644.6 447.0,646.8 447.8,644.6 448.6,646.8 449.4,644.6 460.6,644.6 461.4,646.8 462.2,644.6 463.0,644.6 463.8,646.8 464.6,644.6 467.8,644.6 468.6,646.8 469.4,646.8 470.2,644.6 490.2,644.6 491.0,642.4 491.8,644.6 492.6,642.4 494.2,642.4 495.0,640.2 495.8,642.4 496.6,640.2 518.2,640.2 519.0,642.4 519.8,640.2 524.6,640.2 525.4,642.4 527.0,642.4 527.8,640.2 531.8,640.2 532.6,642.4 533.4,640.2 547.0,640.2 547.8,642.4 548.6,640.2 559.0,640.2 559.8,642.4 560.6,640.2 575.8,640.2 576.6,642.4 577.4,640.2 587.8,640.2 588.6,642.4 589.4,640.2 611.0,640.2 611.8,642.4 612.6,642.4 613.4,640.2 615.8,640.2 616.6,642.4 617.4,640.2 625.4,640.2 626.2,642.4 627.0,640.2 631.0,640.2 631.8,642.4 632.6,640.2 635.8,640.2 636.6,638.0 637.3,640.2 637.4,638.0 638.2,638.0 639.0,640.2 639.8,638.0 643.0,638.0 643.8,635.8 644.6,638.0 646.2,638.0 647.0,635.8 651.0,635.8 651.8,633.6 652.6,633.6 653.4,635.8 654.2,633.6 659.8,633.6 660.6,631.4 667.0,631.4 667.8,629.2 668.6,629.2 669.4,631.4 670.2,629.2 674.2,629.2 675.0,627.0 675.8,629.2 676.6,627.0 680.3,627.0 680.6,624.8 681.4,627.0 682.2,624.8 684.6,624.8 685.4,622.6 690.2,622.6 691.0,620.4 692.6,620.4 693.4,618.2 694.7,618.2 695.0,616.0 695.8,616.0 696.6,613.8 697.4,613.8 698.2,611.6 699.0,609.4 699.8,609.4 700.6,607.2 701.4,605.0 702.2,602.8 703.0,600.6 703.3,600.6 703.8,598.4 704.6,596.2 705.4,594.0 706.2,591.8 707.0,591.8 707.8,587.4 708.6,587.4 709.0,585.2 709.4,585.2 710.2,583.0 711.0,583.0 711.8,580.8 712.6,580.8 713.4,578.6 714.2,578.6 715.0,576.4 715.8,576.4 716.6,574.2 717.4,574.2 718.2,572.0 719.0,572.0 719.8,569.8 721.4,569.8 722.2,567.6 723.0,565.4 723.3,567.6 723.8,565.4 724.6,563.2 726.2,563.2 727.0,561.0 727.8,558.8 728.6,558.8 729.4,556.6 730.2,554.4 731.0,554.4 731.8,552.2 733.4,552.2 734.2,550.0 735.8,550.0 736.6,547.8 740.6,547.8 741.4,545.6 744.6,545.6 745.4,543.4 746.2,543.4 747.0,541.2 747.8,541.2 748.6,539.0 749.4,536.8 750.2,534.6 751.0,534.6 751.8,532.4 752.0,532.4 752.6,530.2 753.4,528.0 754.2,525.8 755.0,523.6 755.8,519.2 756.6,517.0 757.4,514.8 757.8,514.8 758.2,512.6 759.0,512.6 759.8,510.4 760.6,508.2 761.4,508.2 762.2,506.0 763.0,506.0 763.8,503.8 764.6,501.6 765.4,501.6 766.2,499.4 767.0,499.4 767.8,497.2 768.6,497.2 769.4,495.0 770.2,495.0 771.0,492.8 771.8,492.8 772.6,490.6 773.4,490.6 774.2,488.4 775.0,486.2 775.8,486.2 776.6,484.0 777.4,481.8 778.2,479.6 779.0,477.4 779.8,475.2 780.6,473.0 781.4,470.8 782.2,468.6 783.0,466.4 783.8,464.2 784.6,464.2 785.4,462.0 786.2,462.0 787.0,459.8 789.4,459.8 790.2,462.0 791.0,462.0 791.8,464.2 792.6,466.4 793.4,466.4 794.2,468.6 795.0,470.8 795.8,470.8 796.6,473.0 797.4,475.2 798.2,477.4 799.0,479.6 799.8,481.8 801.4,481.8 802.2,484.0 803.8,484.0 804.6,481.8 811.0,481.8 811.8,484.0 812.6,481.8 816.6,481.8 817.4,479.6 820.6,479.6 821.4,477.4 823.8,477.4 824.6,475.2 829.4,475.2 829.5,473.0 830.2,475.2 831.0,473.0 831.8,475.2 832.6,475.2 833.4,473.0 834.2,475.2 839.8,475.2 840.6,477.4 841.4,475.2 842.2,477.4 845.4,477.4 846.2,479.6 848.6,479.6 849.4,481.8 851.8,481.8 852.6,484.0 853.4,484.0 854.2,486.2 855.3,486.2 855.8,488.4 856.6,490.6 857.4,490.6 858.2,492.8 859.0,495.0 859.8,497.2 860.6,499.4 861.0,499.4 861.4,501.6 862.2,501.6 863.0,503.8 863.8,503.8 864.6,506.0 865.4,506.0 866.2,508.2 867.0,508.2 867.8,510.4 868.6,510.4 869.4,512.6 870.2,514.8 871.0,514.8 871.8,517.0 872.6,517.0 873.4,519.2 874.2,521.4 875.0,523.6 875.8,523.6 876.6,525.8 877.4,528.0 878.2,530.2 879.0,532.4 879.8,534.6 880.6,536.8 881.4,539.0 882.2,541.2 883.0,543.4 883.8,545.6 884.0,545.6 884.6,547.8 885.4,547.8 886.2,550.0 887.0,552.2 887.8,554.4 888.6,556.6 889.4,558.8 890.2,558.8 891.0,561.0 891.8,563.2 892.6,563.2 893.4,565.4 894.2,567.6 895.5,567.6 895.8,569.8 896.6,569.8 897.4,572.0 898.2,574.2 899.0,574.2 899.8,576.4 900.6,578.6 901.4,578.6 902.2,580.8 903.0,580.8 903.8,583.0 904.6,583.0 905.4,585.2 907.0,585.2 907.8,587.4 908.6,587.4 909.4,589.6 911.8,589.6 912.6,591.8 914.2,591.8 915.0,594.0 917.4,594.0 918.2,596.2 920.6,596.2 921.3,598.4 921.4,596.2 922.2,598.4 923.8,598.4 924.6,600.6 927.8,600.6 928.6,602.8 929.4,600.6 930.2,602.8 932.6,602.8 933.4,605.0 934.2,602.8 935.0,602.8 935.8,605.0 936.6,605.0 937.4,607.2 938.2,605.0 938.5,607.2 939.0,605.0 939.8,605.0 940.6,607.2 946.2,607.2 947.0,609.4 957.4,609.4 958.2,611.6 958.6,609.4 959.0,611.6 971.8,611.6 972.6,613.8 973.4,611.6 974.2,613.8 983.0,613.8 983.8,616.0 984.6,613.8 985.4,616.0 986.2,613.8 990.2,613.8 991.0,616.0 991.8,613.8 992.6,616.0 993.4,616.0 994.2,613.8 995.0,616.0 1008.6,616.0 1009.4,618.2 1010.2,616.0 1011.0,616.0 1011.8,618.2 1015.8,618.2 1016.0,616.0 1016.6,618.2 1024.6,618.2 1025.4,620.4 1026.2,620.4 1027.0,618.2 1027.8,620.4 1033.4,620.4 1034.2,622.6 1035.0,620.4 1036.6,620.4 1037.4,622.6 1046.2,622.6 1047.0,624.8 1047.5,622.6 1047.8,624.8 1051.0,624.8 1051.8,622.6 1052.6,624.8 1069.4,624.8 1070.2,627.0 1071.8,627.0 1072.6,624.8 1073.3,624.8 1073.4,627.0 1075.0,627.0 1075.8,624.8 1076.6,627.0 1083.0,627.0 1083.8,629.2 1084.6,629.2 1085.4,627.0 1086.2,627.0 1087.0,629.2 1087.8,627.0 1088.6,629.2 1096.6,629.2 1097.4,631.4 1098.2,629.2 1099.0,631.4 1100.0,631.4 1100.6,629.2 1101.4,631.4 1108.6,631.4 1109.4,633.6 1110.2,631.4 1111.0,631.4 1111.8,633.6 1112.6,633.6 1113.4,631.4 1114.2,631.4 1114.7,633.6 1115.8,633.6 1116.6,631.4 1117.4,633.6 1144.6,633.6 1145.4,635.8 1146.2,635.8 1147.0,633.6 1151.8,633.6 1152.6,635.8 1153.4,633.6 1154.2,635.8 1155.0,633.6 1155.8,633.6 1156.6,635.8 1157.4,633.6 1158.2,635.8 1159.0,635.8 1159.8,633.6 1160.6,633.6 1161.4,635.8 1162.2,633.6 1163.0,635.8 1165.4,635.8 1166.2,633.6 1167.0,635.8 1167.8,635.8 1168.6,633.6 1169.4,635.8 1170.2,633.6 1171.0,633.6 1171.8,635.8 1174.2,635.8 1175.0,633.6 1175.8,633.6 1176.6,635.8 1177.4,635.8 1178.2,633.6 1179.0,635.8 1179.8,633.6 1180.6,635.8 1182.2,635.8 1183.0,633.6 1183.8,635.8 1184.6,635.8 1185.4,633.6 1186.2,635.8 1188.6,635.8 1189.4,633.6 1190.2,635.8 1191.0,633.6 1191.8,633.6 1192.6,635.8 1193.4,635.8 1194.2,633.6 1195.0,635.8 1199.8,635.8 1200.6,638.0 1201.4,635.8 1215.1,635.8 1215.8,638.0 1216.6,635.8 1217.4,638.0 1218.2,635.8 1219.8,635.8 1220.6,638.0 1221.4,638.0 1222.2,635.8 1223.0,635.8 1223.8,638.0 1224.6,635.8 1225.4,638.0 1231.0,638.0 1231.8,640.2 1232.6,638.0 1233.4,640.2 1234.2,638.0 1235.0,640.2 1242.2,640.2 1243.0,642.4 1244.6,642.4 1245.4,640.2 1246.2,642.4 1255.8,642.4 1256.6,644.6 1257.4,642.4 1258.2,644.6 1258.2,642.4 1259.0,644.6 1264.6,644.6 1265.4,642.4 1266.2,644.6 1271.0,644.6 1271.8,646.8 1272.6,644.6 1273.4,644.6 1274.2,646.8 1275.0,644.6 1275.8,644.6 1276.6,646.8 1277.4,644.6 1278.2,646.8 1279.0,644.6 1283.0,644.6 1283.8,646.8 1284.6,646.8 1285.4,644.6 1287.0,644.6 1287.8,646.8 1311.0,646.8 1311.8,649.0 1312.6,646.8 1315.6,646.8 1315.8,649.0 1316.6,646.8 1317.4,646.8 1318.2,649.0 1319.0,646.8 1319.8,649.0 1320.6,646.8 1321.4,649.0 1322.2,649.0 1323.0,646.8 1323.8,646.8 1324.6,649.0 1326.2,649.0 1327.0,646.8 1327.8,649.0 1331.8,649.0 1332.6,646.8 1333.4,649.0 1358.2,649.0 1359.0,651.2 1359.8,649.0 1360.6,649.0 1361.4,651.2 1362.2,651.2 1363.0,649.0 1363.8,651.2 1366.2,651.2 1367.0,649.0 1367.8,651.2 1368.6,649.0 1369.4,651.2 1371.8,651.2 1372.6,649.0 1372.9,651.2 1374.2,651.2 1375.0,649.0 1375.8,651.2 1385.4,651.2 1386.2,653.4 1387.0,651.2 1388.6,651.2 1389.4,653.4 1390.2,651.2 1392.6,651.2 1393.4,653.4 1400.6,653.4 1401.4,651.2 1402.2,653.4 1404.6,653.4 1405.4,655.6 1406.2,655.6 1407.0,653.4 1413.4,653.4 1414.2,655.6 1415.0,655.6 1415.8,653.4 1416.6,655.6 1427.0,655.6 1427.8,657.8 1428.6,655.6 1432.6,655.6 1433.4,657.8 1434.2,655.6 1435.0,657.8 1435.8,655.6 1436.6,657.8 1437.4,657.8 1438.2,655.6 1439.0,657.8 1439.8,655.6 1440.6,655.6 1441.4,657.8 1442.2,655.6 1443.0,655.6 1443.8,657.8 1460.6,657.8 1461.4,660.0 1462.2,657.8 1463.0,657.8 1463.8,660.0 1464.6,657.8 1473.4,657.8 1474.2,653.4 1475.0,649.0 1475.0,649.0 1475.8,653.4 1476.5,657.8 1480.6,657.8 1481.4,660.0 1482.0,660.0" fill="none" stroke="#800000" stroke-width="6.7" stroke-linejoin="round" stroke-linecap="round"/>

<polyline points="248.2,758.2 248.3,785.4 249.0,782.0 249.8,775.2 252.2,775.2 253.0,771.8 253.8,778.6 254.6,775.2 257.8,775.2 258.6,778.6 259.4,775.2 264.2,775.2 265.0,778.6 265.8,775.2 266.6,775.2 267.4,771.8 268.2,775.2 269.0,775.2 269.8,778.6 270.6,778.6 271.4,775.2 277.8,775.2 278.6,778.6 279.4,775.2 283.4,775.2 284.2,778.6 285.0,775.2 292.2,775.2 293.0,778.6 293.8,775.2 294.6,778.6 295.4,775.2 296.2,775.2 297.0,778.6 297.8,775.2 299.4,775.2 300.0,778.6 300.2,775.2 301.8,775.2 302.6,778.6 303.4,778.6 304.2,775.2 307.4,775.2 308.2,778.6 309.0,775.2 310.6,775.2 311.4,778.6 312.2,775.2 317.8,775.2 318.6,778.6 319.4,775.2 328.2,775.2 329.0,778.6 329.8,775.2 331.4,775.2 332.2,778.6 333.0,775.2 334.6,775.2 335.4,778.6 336.2,775.2 337.0,778.6 337.8,778.6 338.6,775.2 341.0,775.2 341.8,778.6 342.6,778.6 343.4,775.2 344.2,778.6 345.0,775.2 348.2,775.2 349.0,778.6 349.8,775.2 363.4,775.2 364.2,778.6 365.0,775.2 365.8,775.2 366.6,771.8 367.4,775.2 372.2,775.2 373.0,778.6 373.8,775.2 390.6,775.2 391.4,771.8 392.2,775.2 404.2,775.2 405.0,771.8 405.8,771.8 406.6,775.2 407.4,775.2 408.2,771.8 409.0,775.2 409.8,771.8 410.6,775.2 413.0,775.2 413.8,771.8 414.6,775.2 415.4,778.6 416.2,775.2 417.0,775.2 417.8,771.8 418.6,775.2 420.2,775.2 421.0,771.8 421.8,775.2 422.6,775.2 423.4,771.8 424.2,775.2 425.0,771.8 425.8,775.2 426.6,771.8 427.4,775.2 428.2,775.2 429.0,771.8 431.4,771.8 432.2,775.2 433.0,775.2 433.8,771.8 434.6,771.8 435.4,775.2 436.2,775.2 437.0,771.8 437.8,775.2 439.4,775.2 440.2,771.8 441.0,775.2 441.8,771.8 444.2,771.8 445.0,775.2 445.8,771.8 449.0,771.8 449.8,775.2 450.6,771.8 455.4,771.8 456.2,775.2 457.0,771.8 461.8,771.8 462.6,775.2 463.4,775.2 464.2,771.8 465.8,771.8 466.6,775.2 467.4,775.2 468.2,771.8 473.8,771.8 474.6,768.4 475.4,771.8 477.0,771.8 477.8,768.4 478.6,768.4 479.4,771.8 481.0,771.8 481.8,768.4 482.6,768.4 483.4,765.0 484.2,768.4 486.6,768.4 486.9,771.8 487.4,768.4 488.2,771.8 489.0,771.8 489.8,768.4 490.6,771.8 491.4,771.8 492.2,768.4 493.0,771.8 493.8,768.4 505.0,768.4 505.8,771.8 506.6,768.4 507.4,771.8 508.2,768.4 509.0,768.4 509.8,771.8 511.4,771.8 512.2,768.4 513.0,771.8 513.8,771.8 514.6,768.4 515.4,771.8 516.2,768.4 517.0,771.8 517.8,768.4 521.0,768.4 521.8,771.8 522.6,768.4 525.8,768.4 526.6,771.8 527.4,768.4 529.8,768.4 530.6,771.8 531.4,768.4 533.0,768.4 533.8,765.0 534.6,768.4 535.4,771.8 536.2,768.4 537.0,768.4 537.8,771.8 538.6,768.4 546.6,768.4 547.4,771.8 548.2,768.4 550.6,768.4 551.4,771.8 552.2,768.4 556.2,768.4 557.0,771.8 557.8,768.4 559.4,768.4 560.2,765.0 561.0,768.4 563.4,768.4 564.2,771.8 565.0,768.4 565.8,771.8 566.6,768.4 569.0,768.4 569.8,771.8 570.6,771.8 571.4,768.4 572.2,771.8 573.0,768.4 576.2,768.4 577.0,765.0 577.8,768.4 585.8,768.4 586.6,771.8 587.4,768.4 593.8,768.4 594.6,765.0 595.4,768.4 597.0,768.4 597.8,771.8 598.6,771.8 599.4,768.4 605.0,768.4 605.8,765.0 606.6,768.4 609.0,768.4 609.8,765.0 610.6,768.4 611.4,768.4 612.2,765.0 613.0,768.4 613.8,768.4 614.6,765.0 623.4,765.0 624.2,761.6 625.0,765.0 625.8,761.6 629.0,761.6 629.8,765.0 630.6,761.6 636.2,761.6 637.0,765.0 637.8,761.6 643.4,761.6 644.2,758.2 649.8,758.2 650.6,761.6 651.4,758.2 654.6,758.2 655.4,754.8 656.2,758.2 657.0,758.2 657.8,754.8 658.6,758.2 659.4,754.8 664.2,754.8 665.0,751.4 665.8,754.8 666.6,751.4 669.8,751.4 670.6,748.0 671.4,751.4 672.2,748.0 673.0,751.4 673.8,748.0 677.0,748.0 677.8,744.6 682.6,744.6 683.4,741.2 684.2,744.6 685.0,741.2 689.8,741.2 690.6,737.8 693.0,737.8 693.8,734.4 697.0,734.4 697.8,731.0 699.4,731.0 700.2,727.6 701.8,727.6 702.6,724.2 703.4,724.2 704.2,720.8 705.8,720.8 706.1,717.4 706.6,717.4 707.4,714.0 708.2,707.2 709.0,703.8 709.8,697.0 710.6,690.2 711.4,686.8 712.2,683.4 713.0,680.0 713.3,676.6 713.8,676.6 714.6,673.2 716.2,673.2 717.0,669.8 719.4,669.8 720.2,666.4 721.0,666.4 721.8,663.0 725.0,663.0 725.8,659.6 729.1,659.6 729.8,656.2 730.6,656.2 731.4,652.8 732.2,652.8 733.0,649.4 734.6,649.4 735.4,646.0 736.2,646.0 737.0,642.6 737.8,639.2 739.4,639.2 740.2,635.8 741.0,635.8 741.8,632.4 742.6,629.0 743.4,629.0 744.2,625.6 745.0,622.2 746.3,622.2 746.6,618.8 748.2,618.8 749.0,615.4 751.4,615.4 752.2,612.0 753.0,615.4 753.8,612.0 755.4,612.0 756.2,608.6 757.0,612.0 757.8,608.6 759.4,608.6 760.2,605.2 761.8,605.2 762.6,601.8 765.0,601.8 765.8,598.4 766.6,598.4 767.4,595.0 769.3,595.0 769.8,591.6 770.6,595.0 771.4,595.0 772.2,591.6 773.0,591.6 773.8,588.2 777.0,588.2 777.8,584.8 778.6,588.2 779.4,584.8 780.2,581.4 780.7,584.8 781.0,584.8 781.8,581.4 782.6,584.8 783.4,588.2 785.0,588.2 785.8,591.6 789.0,591.6 789.3,595.0 789.8,595.0 790.6,598.4 793.0,598.4 793.8,601.8 797.0,601.8 797.8,605.2 797.9,601.8 798.6,601.8 799.4,605.2 800.2,601.8 801.0,605.2 801.8,601.8 803.4,601.8 804.2,598.4 805.0,601.8 806.6,601.8 807.4,598.4 809.8,598.4 810.6,601.8 811.4,598.4 815.4,598.4 816.2,601.8 817.0,598.4 817.8,595.0 818.6,598.4 820.9,598.4 821.0,595.0 821.8,598.4 828.2,598.4 829.0,601.8 829.8,598.4 830.6,601.8 835.4,601.8 836.2,605.2 838.6,605.2 839.4,608.6 841.8,608.6 842.6,612.0 843.4,608.6 843.8,612.0 845.0,612.0 845.8,615.4 847.4,615.4 848.2,618.8 849.0,618.8 849.8,622.2 852.2,622.2 853.0,625.6 853.8,625.6 854.6,629.0 855.4,629.0 856.2,632.4 857.0,632.4 857.8,635.8 859.4,635.8 860.2,639.2 861.0,639.2 861.8,642.6 862.6,642.6 863.4,646.0 865.0,646.0 865.8,649.4 866.6,649.4 867.4,652.8 868.2,652.8 869.0,656.2 870.6,656.2 871.4,659.6 872.5,659.6 873.0,663.0 874.6,663.0 875.4,666.4 876.2,666.4 877.0,669.8 878.6,669.8 879.4,673.2 880.2,676.6 881.8,676.6 882.6,680.0 884.2,680.0 885.0,683.4 885.8,683.4 886.6,686.8 887.4,686.8 888.2,690.2 889.0,690.2 889.8,693.6 892.2,693.6 893.0,697.0 893.8,700.4 896.2,700.4 897.0,703.8 897.8,703.8 898.6,707.2 900.2,707.2 901.0,710.6 901.2,707.2 901.8,707.2 902.6,710.6 903.4,714.0 906.6,714.0 907.4,717.4 911.4,717.4 912.2,720.8 915.4,720.8 915.5,724.2 916.2,720.8 917.0,724.2 921.0,724.2 921.8,727.6 922.6,724.2 923.4,727.6 929.8,727.6 929.9,731.0 930.6,731.0 931.4,727.6 932.2,731.0 933.0,731.0 933.8,727.6 934.6,731.0 935.4,731.0 936.2,734.4 937.0,731.0 938.6,731.0 939.4,734.4 950.6,734.4 951.4,737.8 952.2,734.4 953.0,737.8 953.8,737.8 954.6,734.4 955.4,737.8 956.2,734.4 957.0,737.8 973.0,737.8 973.8,741.2 974.6,737.8 976.2,737.8 977.0,741.2 977.8,737.8 978.7,737.8 979.4,741.2 986.6,741.2 987.4,744.6 988.2,741.2 989.0,741.2 989.8,744.6 990.6,741.2 991.4,741.2 992.2,744.6 997.0,744.6 997.8,748.0 998.6,744.6 999.4,748.0 1000.2,748.0 1001.0,744.6 1001.6,748.0 1006.6,748.0 1007.4,751.4 1008.2,748.0 1009.0,751.4 1009.8,748.0 1010.6,751.4 1014.6,751.4 1015.4,754.8 1016.0,751.4 1019.4,751.4 1020.2,754.8 1021.0,754.8 1021.8,751.4 1022.6,754.8 1024.2,754.8 1025.0,751.4 1025.8,754.8 1026.6,751.4 1027.4,751.4 1028.2,754.8 1031.4,754.8 1032.2,751.4 1033.0,754.8 1041.8,754.8 1042.6,758.2 1043.4,754.8 1044.6,754.8 1045.0,751.4 1045.8,754.8 1046.6,758.2 1047.4,754.8 1049.0,754.8 1049.8,751.4 1050.6,751.4 1051.4,754.8 1052.2,754.8 1053.0,758.2 1053.8,751.4 1054.6,754.8 1056.2,754.8 1057.0,751.4 1057.8,754.8 1059.4,754.8 1060.2,758.2 1061.0,754.8 1064.2,754.8 1065.0,751.4 1065.8,754.8 1066.6,751.4 1067.4,754.8 1068.2,758.2 1069.0,758.2 1069.8,754.8 1070.6,754.8 1071.4,758.2 1072.2,754.8 1073.0,751.4 1073.8,751.4 1074.6,758.2 1075.4,758.2 1076.2,754.8 1081.8,754.8 1082.6,758.2 1083.4,754.8 1088.2,754.8 1089.0,758.2 1089.8,754.8 1107.4,754.8 1108.2,758.2 1109.0,754.8 1113.0,754.8 1113.8,758.2 1114.6,754.8 1114.7,754.8 1115.4,758.2 1116.2,754.8 1117.0,754.8 1117.8,758.2 1118.6,754.8 1119.4,758.2 1120.2,754.8 1127.4,754.8 1128.2,758.2 1129.0,758.2 1129.8,754.8 1131.4,754.8 1132.2,758.2 1137.0,758.2 1137.8,754.8 1139.4,754.8 1140.2,758.2 1147.4,758.2 1148.2,761.6 1149.0,758.2 1152.2,758.2 1153.0,761.6 1153.8,761.6 1154.6,758.2 1155.4,761.6 1157.8,761.6 1158.6,758.2 1159.4,758.2 1160.2,761.6 1173.0,761.6 1173.8,765.0 1174.6,761.6 1177.0,761.6 1177.8,765.0 1189.8,765.0 1190.6,768.4 1191.4,765.0 1193.8,765.0 1194.6,768.4 1195.4,765.0 1196.2,765.0 1197.0,768.4 1197.8,765.0 1198.6,765.0 1199.4,761.6 1200.2,768.4 1200.8,768.4 1201.0,765.0 1201.8,768.4 1202.6,768.4 1203.4,765.0 1206.6,765.0 1207.4,768.4 1208.2,765.0 1210.6,765.0 1211.4,768.4 1213.0,768.4 1213.8,765.0 1214.6,768.4 1216.2,768.4 1217.0,765.0 1217.8,768.4 1218.6,765.0 1219.4,768.4 1221.0,768.4 1221.8,771.8 1222.6,768.4 1223.4,771.8 1224.2,768.4 1225.8,768.4 1226.6,771.8 1227.4,768.4 1228.2,768.4 1229.0,771.8 1229.8,768.4 1231.4,768.4 1232.2,771.8 1233.0,768.4 1234.6,768.4 1235.4,771.8 1236.2,768.4 1237.0,768.4 1237.8,771.8 1238.6,768.4 1239.4,768.4 1240.2,771.8 1244.2,771.8 1245.0,768.4 1245.8,768.4 1246.6,771.8 1249.8,771.8 1250.6,768.4 1251.4,771.8 1252.2,771.8 1253.0,768.4 1253.8,771.8 1255.4,771.8 1256.2,768.4 1257.0,771.8 1257.8,775.2 1258.2,771.8 1259.4,771.8 1260.2,768.4 1261.0,771.8 1263.4,771.8 1264.2,768.4 1265.0,771.8 1265.8,771.8 1266.6,768.4 1267.4,771.8 1272.2,771.8 1273.0,775.2 1273.8,771.8 1274.6,771.8 1275.4,775.2 1276.2,771.8 1277.0,771.8 1277.8,775.2 1278.6,771.8 1279.4,775.2 1281.0,775.2 1281.8,771.8 1282.6,775.2 1283.4,771.8 1284.2,771.8 1285.0,775.2 1285.8,771.8 1286.6,771.8 1287.4,775.2 1294.6,775.2 1295.4,778.6 1296.2,775.2 1297.0,775.2 1297.8,771.8 1298.6,775.2 1301.8,775.2 1302.6,778.6 1303.4,775.2 1305.0,775.2 1305.8,778.6 1306.6,775.2 1313.8,775.2 1314.6,778.6 1315.4,778.6 1315.6,775.2 1316.2,778.6 1318.6,778.6 1319.4,775.2 1320.2,778.6 1324.2,778.6 1325.0,775.2 1325.8,778.6 1335.4,778.6 1336.2,782.0 1337.0,782.0 1337.8,778.6 1338.6,782.0 1339.4,782.0 1340.2,778.6 1341.0,782.0 1356.2,782.0 1357.0,785.4 1357.8,782.0 1363.4,782.0 1364.2,775.2 1365.0,768.4 1365.0,768.4 1365.8,771.8 1366.6,768.4 1367.4,771.8 1368.2,771.8 1369.0,778.6 1369.8,792.2 1370.6,802.4 1371.4,809.2 1371.5,809.2 1372.2,805.8 1373.0,799.0 1373.8,788.8 1374.6,782.0 1375.0,782.0 1375.4,778.6 1376.2,775.2 1377.0,771.8 1377.8,771.8 1378.6,768.4 1380.2,768.4 1381.0,771.8 1381.8,775.2 1382.6,775.2 1383.4,782.0 1384.2,782.0 1385.0,785.4 1385.8,788.8 1386.6,788.8 1387.4,792.2 1388.2,792.2 1389.0,788.8 1389.8,792.2 1393.0,792.2 1393.8,788.8 1394.6,792.2 1397.8,792.2 1398.6,788.8 1399.4,792.2 1400.2,792.2 1401.0,795.6 1401.8,792.2 1405.8,792.2 1406.6,795.6 1407.4,795.6 1408.2,792.2 1409.8,792.2 1410.6,795.6 1413.0,795.6 1413.8,792.2 1414.6,795.6 1415.4,795.6 1416.2,792.2 1417.8,792.2 1418.6,795.6 1419.4,792.2 1421.0,792.2 1421.8,795.6 1422.6,795.6 1423.4,792.2 1424.2,792.2 1425.0,795.6 1425.8,792.2 1426.6,795.6 1427.4,792.2 1428.2,795.6 1429.0,792.2 1429.8,795.6 1430.3,792.2 1430.6,792.2 1431.4,795.6 1433.0,795.6 1433.8,799.0 1434.6,799.0 1435.4,795.6 1436.2,799.0 1437.8,799.0 1438.6,795.6 1439.4,799.0 1440.2,795.6 1441.0,799.0 1443.4,799.0 1444.2,802.4 1445.0,799.0 1445.8,802.4 1446.6,799.0 1447.4,799.0 1448.2,802.4 1455.4,802.4 1456.2,805.8 1457.0,802.4 1458.6,802.4 1459.0,805.8 1459.4,802.4 1460.2,805.8 1461.0,805.8 1461.8,802.4 1462.6,805.8 1467.4,805.8 1468.2,809.2 1476.2,809.2 1477.0,812.6 1477.8,809.2 1478.6,809.2 1479.4,812.6 1482.6,812.6 1483.4,809.2 1484.2,809.2 1485.0,812.6 1485.8,809.2 1486.6,809.2 1487.4,812.6 1489.0,812.6 1489.8,799.0 1490.6,782.0 1491.0,782.0 1491.4,778.6 1492.2,782.0 1493.0,782.0 1493.8,785.4 1494.6,788.8 1495.4,788.8 1496.2,792.2 1497.0,795.6 1497.0,795.6 1497.8,799.0 1498.6,799.0 1499.4,802.4 1500.2,805.8 1501.0,809.2 1501.8,812.6 1502.0,812.6" fill="none" stroke="#00ffff" stroke-width="6.7" stroke-linejoin="round" stroke-linecap="round"/>

<polyline points="258.2,932.4 259.0,932.4 259.8,928.2 262.2,928.2 263.0,936.6 263.8,928.2 265.4,928.2 266.2,932.4 267.0,928.2 267.8,928.2 268.6,932.4 269.4,932.4 270.2,928.2 271.0,932.4 274.2,932.4 275.0,928.2 275.8,928.2 276.6,932.4 277.4,932.4 278.2,936.6 279.0,945.0 279.0,936.6 279.8,936.6 280.6,932.4 281.0,928.2 282.2,928.2 283.0,932.4 283.8,928.2 284.6,932.4 285.4,932.4 286.2,924.0 287.0,932.4 287.8,928.2 288.6,928.2 289.4,932.4 290.2,928.2 294.2,928.2 295.0,936.6 295.8,932.4 296.6,932.4 297.4,928.2 298.2,924.0 299.0,928.2 299.8,932.4 300.6,928.2 301.4,928.2 302.2,932.4 303.0,936.6 303.8,932.4 304.6,932.4 305.4,928.2 306.2,932.4 307.0,932.4 307.8,928.2 309.4,928.2 310.2,932.4 311.0,936.6 311.8,932.4 312.6,932.4 313.4,928.2 314.2,932.4 315.0,928.2 315.8,932.4 316.6,928.2 317.4,932.4 320.6,932.4 321.4,928.2 324.6,928.2 325.4,932.4 326.2,928.2 329.4,928.2 330.2,932.4 332.6,932.4 333.4,928.2 334.2,928.2 335.0,924.0 335.8,932.4 336.6,928.2 337.0,932.4 337.4,928.2 338.2,924.0 339.0,915.6 339.8,907.2 340.6,903.0 340.6,903.0 341.4,907.2 342.2,911.4 343.0,911.4 343.0,907.2 343.8,907.2 344.6,911.4 346.2,911.4 347.0,915.6 347.0,907.2 347.8,915.6 348.6,924.0 349.4,928.2 349.5,928.2 350.2,932.4 351.0,928.2 351.8,928.2 352.6,932.4 353.4,928.2 354.2,928.2 355.0,932.4 358.2,932.4 359.0,924.0 359.8,932.4 360.6,928.2 361.4,932.4 362.2,932.4 363.0,936.6 363.8,932.4 364.6,928.2 365.4,932.4 366.2,928.2 367.0,932.4 367.8,932.4 368.6,928.2 371.0,928.2 371.8,932.4 372.6,928.2 374.2,928.2 375.0,932.4 375.8,928.2 376.6,928.2 377.4,936.6 378.2,928.2 379.0,932.4 379.8,932.4 380.6,928.2 381.4,928.2 382.2,932.4 383.0,928.2 383.8,932.4 384.6,928.2 385.4,932.4 386.2,928.2 391.0,928.2 391.8,932.4 392.6,928.2 398.2,928.2 399.0,932.4 399.8,932.4 400.6,928.2 403.0,928.2 403.8,924.0 404.6,932.4 405.4,932.4 406.2,928.2 407.0,928.2 407.8,924.0 408.6,928.2 413.4,928.2 414.2,932.4 415.0,928.2 415.8,924.0 416.6,928.2 417.4,928.2 418.2,932.4 419.0,924.0 419.8,928.2 420.0,928.2 420.6,932.4 421.4,932.4 422.2,928.2 423.0,924.0 425.4,924.0 426.2,919.8 430.2,919.8 431.0,915.6 431.8,924.0 432.6,919.8 433.4,919.8 434.2,924.0 435.0,919.8 435.8,919.8 436.6,915.6 437.4,919.8 438.2,915.6 439.0,919.8 439.8,924.0 440.6,919.8 441.4,919.8 442.2,924.0 443.0,924.0 443.8,919.8 445.4,919.8 446.2,924.0 447.0,915.6 447.8,919.8 451.0,919.8 451.8,924.0 452.6,919.8 453.4,924.0 454.2,919.8 455.0,919.8 455.8,915.6 456.6,919.8 457.4,915.6 458.2,915.6 459.0,924.0 459.8,919.8 460.6,915.6 461.4,915.6 462.2,919.8 463.0,919.8 463.8,924.0 465.4,924.0 466.2,915.6 467.0,911.4 467.8,919.8 468.6,915.6 469.4,924.0 470.2,919.8 471.8,919.8 472.6,915.6 473.4,919.8 475.0,919.8 475.8,924.0 476.6,919.8 477.4,919.8 478.2,924.0 479.0,919.8 480.6,919.8 481.4,915.6 482.2,915.6 483.0,919.8 483.8,924.0 484.6,919.8 489.4,919.8 490.2,924.0 491.0,919.8 491.8,919.8 492.6,915.6 493.4,919.8 494.2,919.8 495.0,924.0 495.8,919.8 496.6,928.2 497.4,919.8 502.2,919.8 503.0,924.0 503.8,924.0 504.6,928.2 505.4,924.0 507.8,924.0 508.6,928.2 509.4,924.0 510.0,928.2 511.8,928.2 512.6,932.4 513.4,924.0 514.2,928.2 518.2,928.2 519.0,924.0 519.8,928.2 523.8,928.2 524.6,932.4 525.4,928.2 526.2,924.0 527.0,924.0 527.8,928.2 528.6,924.0 529.4,928.2 530.2,924.0 531.0,928.2 531.8,928.2 532.6,924.0 533.4,928.2 534.2,928.2 535.0,924.0 535.8,928.2 536.6,924.0 537.4,928.2 538.2,928.2 539.0,924.0 539.8,928.2 541.4,928.2 542.2,932.4 543.0,928.2 543.8,924.0 546.2,924.0 547.0,928.2 547.8,932.4 548.6,924.0 550.2,924.0 551.0,928.2 551.8,924.0 552.6,928.2 553.4,928.2 554.2,924.0 555.0,928.2 555.8,924.0 556.6,928.2 557.4,932.4 558.2,924.0 559.0,928.2 559.8,924.0 560.6,928.2 561.4,928.2 562.2,924.0 563.0,928.2 563.8,932.4 564.6,932.4 565.0,924.0 565.4,928.2 567.0,928.2 567.8,924.0 569.4,924.0 570.2,919.8 571.0,915.6 571.8,919.8 572.6,915.6 573.0,911.4 573.4,919.8 574.2,919.8 575.0,915.6 577.4,915.6 578.2,911.4 579.0,915.6 579.8,915.6 580.6,919.8 581.4,919.8 582.2,915.6 583.0,911.4 583.8,911.4 584.6,915.6 585.4,911.4 586.2,919.8 587.0,915.6 589.4,915.6 590.2,911.4 591.0,915.6 591.8,915.6 592.6,911.4 593.4,915.6 594.2,915.6 595.0,911.4 595.8,911.4 596.6,915.6 597.4,911.4 598.2,915.6 599.0,915.6 599.8,907.2 600.6,911.4 601.4,915.6 601.6,911.4 602.2,915.6 603.0,915.6 603.8,911.4 605.4,911.4 606.2,907.2 607.0,911.4 607.8,907.2 608.6,911.4 610.2,911.4 611.0,907.2 612.6,907.2 613.4,911.4 614.2,907.2 614.3,911.4 615.0,911.4 615.8,907.2 616.6,911.4 617.4,907.2 619.0,907.2 619.8,903.0 620.6,907.2 621.4,907.2 622.2,911.4 623.0,911.4 623.8,907.2 624.6,907.2 625.4,911.4 626.2,907.2 627.0,903.0 627.8,907.2 628.6,903.0 629.4,907.2 630.2,907.2 631.0,911.4 631.8,907.2 632.6,903.0 633.4,907.2 634.2,907.2 635.0,903.0 635.8,907.2 636.6,903.0 638.2,903.0 639.0,907.2 639.8,911.4 640.6,903.0 641.4,907.2 642.2,903.0 643.0,907.2 643.8,907.2 644.6,903.0 645.4,907.2 646.2,903.0 647.0,907.2 647.8,903.0 648.6,907.2 649.4,907.2 650.2,898.8 651.0,907.2 653.4,907.2 654.2,903.0 655.0,898.8 655.8,903.0 656.6,903.0 657.4,898.8 658.2,907.2 659.0,907.2 659.8,903.0 663.0,903.0 663.8,907.2 664.6,903.0 665.4,907.2 666.2,903.0 667.0,907.2 667.8,907.2 668.6,898.8 669.4,903.0 671.8,903.0 672.6,907.2 673.4,903.0 674.2,903.0 675.0,907.2 675.8,903.0 677.4,903.0 678.2,898.8 679.0,898.8 679.8,907.2 680.6,903.0 681.4,898.8 682.2,903.0 683.0,898.8 685.4,898.8 686.0,903.0 686.2,907.2 687.0,898.8 687.8,903.0 689.4,903.0 690.2,898.8 691.0,898.8 691.8,903.0 692.6,898.8 693.4,903.0 694.2,898.8 695.0,898.8 695.8,903.0 696.6,894.6 697.4,907.2 698.2,898.8 699.0,898.8 699.8,903.0 700.6,894.6 701.4,898.8 706.2,898.8 707.0,903.0 707.8,898.8 708.6,894.6 709.0,898.8 710.2,898.8 711.0,894.6 711.8,894.6 712.6,890.4 713.4,890.4 714.2,894.6 714.7,890.4 715.0,890.4 715.8,886.2 719.0,886.2 719.8,882.0 720.6,877.8 721.4,882.0 722.2,877.8 723.0,877.8 723.3,882.0 723.8,877.8 724.6,877.8 725.4,873.6 726.2,873.6 727.0,869.4 727.8,865.2 729.4,865.2 730.2,856.8 731.0,856.8 731.8,852.6 732.0,852.6 732.6,848.4 733.4,848.4 734.2,840.0 735.0,835.8 735.8,831.6 736.6,823.2 737.4,814.8 737.7,814.8 738.2,810.6 739.0,806.4 739.8,798.0 740.6,789.6 741.4,781.2 742.2,772.8 743.0,764.4 743.4,760.2 743.8,751.8 744.6,743.4 745.4,730.8 746.2,722.4 747.0,709.8 747.7,701.4 747.8,701.4 748.6,688.8 749.4,680.4 750.2,672.0 751.0,663.6 751.8,655.2 752.0,655.2 752.6,651.0 753.4,646.8 754.2,638.4 755.0,634.2 755.8,630.0 756.6,625.8 757.4,625.8 757.8,621.6 758.2,621.6 759.0,617.4 759.8,617.4 760.6,613.2 761.4,609.0 762.2,609.0 763.0,604.8 763.8,604.8 764.6,600.6 766.2,600.6 767.0,596.4 769.4,596.4 770.2,600.6 771.0,604.8 771.8,613.2 772.1,613.2 772.6,621.6 773.4,634.2 774.2,646.8 775.0,655.2 775.0,655.2 775.8,659.4 776.6,667.8 777.4,667.8 778.2,672.0 779.0,676.2 779.3,672.0 779.8,676.2 780.6,676.2 781.4,672.0 782.2,672.0 783.0,667.8 785.4,667.8 786.2,663.6 787.0,663.6 787.8,659.4 788.6,663.6 789.4,655.2 791.0,655.2 791.8,651.0 792.6,651.0 793.4,646.8 794.2,651.0 795.0,651.0 795.1,646.8 795.8,651.0 798.2,651.0 799.0,646.8 799.8,651.0 800.8,651.0 801.4,655.2 802.2,651.0 803.0,655.2 803.8,659.4 805.4,659.4 806.2,663.6 807.0,663.6 807.8,667.8 808.6,667.8 809.4,672.0 810.2,672.0 811.0,676.2 811.8,680.4 812.3,684.6 812.6,684.6 813.4,688.8 814.2,693.0 815.0,697.2 815.8,701.4 816.6,705.6 817.4,709.8 818.2,714.0 819.0,718.2 819.8,718.2 820.6,726.6 821.4,726.6 822.2,730.8 823.0,735.0 823.8,739.2 824.6,743.4 825.4,747.6 826.2,751.8 827.0,756.0 827.8,760.2 828.6,764.4 829.4,768.6 829.5,768.6 830.2,772.8 831.0,772.8 831.8,781.2 832.6,785.4 833.4,789.6 834.2,789.6 835.0,798.0 835.8,802.2 836.6,806.4 837.4,810.6 838.2,810.6 839.0,814.8 839.8,819.0 840.6,823.2 841.4,827.4 842.2,827.4 843.0,831.6 843.8,835.8 844.6,835.8 845.4,840.0 846.2,840.0 846.7,844.2 847.0,844.2 847.8,848.4 848.6,848.4 849.4,852.6 850.2,852.6 851.0,856.8 852.6,856.8 853.4,861.0 854.2,861.0 855.0,865.2 855.8,865.2 856.6,861.0 857.4,869.4 859.0,869.4 859.8,873.6 861.4,873.6 862.2,877.8 863.0,873.6 863.8,877.8 863.9,877.8 864.6,873.6 865.4,873.6 866.2,877.8 868.6,877.8 869.4,873.6 870.2,877.8 871.0,877.8 871.8,873.6 872.6,882.0 873.4,877.8 875.8,877.8 876.6,882.0 878.2,882.0 879.0,886.2 879.8,886.2 880.6,882.0 881.1,886.2 881.4,886.2 882.2,890.4 883.8,890.4 884.6,886.2 885.4,890.4 886.2,894.6 887.0,886.2 887.8,886.2 888.6,890.4 889.4,890.4 890.2,886.2 891.0,890.4 891.8,886.2 892.6,886.2 893.4,890.4 894.2,886.2 895.0,886.2 895.8,894.6 896.6,890.4 897.4,890.4 898.2,886.2 899.8,886.2 900.6,894.6 901.2,890.4 903.8,890.4 904.6,886.2 905.4,886.2 906.2,890.4 907.8,890.4 908.6,894.6 909.4,890.4 911.0,890.4 911.8,886.2 912.6,890.4 914.2,890.4 915.0,894.6 915.8,894.6 916.6,890.4 917.4,890.4 918.2,894.6 919.0,890.4 919.8,886.2 920.6,894.6 924.2,894.6 924.6,890.4 925.4,894.6 927.8,894.6 928.6,898.8 929.4,894.6 930.2,890.4 931.0,898.8 932.6,898.8 933.4,894.6 935.0,894.6 935.8,898.8 938.2,898.8 939.0,894.6 939.8,898.8 941.4,898.8 942.2,903.0 943.0,890.4 943.8,898.8 947.8,898.8 948.6,894.6 949.4,898.8 950.2,898.8 951.0,894.6 951.8,898.8 954.2,898.8 955.0,894.6 955.8,898.8 956.6,894.6 957.4,903.0 958.2,894.6 959.0,898.8 961.4,898.8 961.4,903.0 962.2,898.8 965.4,898.8 966.2,903.0 967.0,894.6 967.8,898.8 969.4,898.8 970.2,903.0 971.0,903.0 971.8,898.8 972.6,907.2 972.9,903.0 978.2,903.0 979.0,907.2 979.8,903.0 983.0,903.0 983.8,898.8 984.6,903.0 986.2,903.0 987.0,907.2 987.8,907.2 988.6,903.0 991.0,903.0 991.8,907.2 993.4,907.2 994.2,903.0 995.8,903.0 996.6,907.2 997.4,903.0 998.2,907.2 999.0,903.0 999.8,898.8 1000.6,907.2 1003.8,907.2 1004.6,903.0 1005.4,898.8 1006.2,903.0 1007.0,903.0 1007.8,898.8 1008.6,903.0 1009.4,907.2 1010.2,903.0 1011.0,903.0 1011.8,907.2 1012.6,903.0 1014.2,903.0 1015.0,898.8 1015.8,907.2 1017.4,907.2 1018.2,903.0 1019.0,903.0 1019.8,907.2 1020.6,898.8 1021.4,903.0 1023.0,903.0 1023.8,907.2 1024.6,907.2 1025.4,903.0 1027.8,903.0 1028.6,907.2 1029.4,903.0 1030.2,903.0 1031.0,907.2 1031.8,903.0 1034.2,903.0 1035.0,907.2 1035.8,903.0 1036.6,907.2 1037.4,903.0 1038.2,903.0 1039.0,907.2 1041.4,907.2 1042.2,903.0 1044.6,903.0 1045.4,907.2 1046.2,903.0 1047.0,903.0 1047.8,907.2 1048.6,907.2 1049.4,903.0 1050.2,907.2 1051.0,903.0 1052.6,903.0 1053.4,907.2 1054.2,903.0 1055.0,898.8 1055.8,907.2 1056.6,903.0 1057.4,907.2 1058.2,903.0 1059.8,903.0 1060.6,911.4 1061.4,903.0 1062.2,903.0 1063.0,898.8 1063.8,907.2 1065.4,907.2 1066.2,903.0 1067.0,903.0 1067.8,907.2 1068.6,903.0 1069.4,907.2 1071.8,907.2 1072.6,903.0 1075.0,903.0 1075.8,907.2 1076.6,907.2 1077.4,903.0 1080.6,903.0 1081.4,898.8 1082.2,907.2 1090.2,907.2 1091.0,903.0 1096.6,903.0 1097.4,907.2 1099.8,907.2 1100.6,898.8 1101.4,907.2 1102.2,907.2 1103.0,903.0 1105.4,903.0 1106.2,907.2 1107.0,903.0 1107.8,911.4 1108.6,907.2 1109.4,898.8 1110.2,903.0 1111.0,907.2 1111.8,907.2 1112.6,903.0 1115.0,903.0 1115.8,907.2 1116.6,907.2 1117.4,903.0 1118.2,898.8 1119.0,907.2 1119.8,903.0 1120.6,898.8 1121.4,907.2 1122.2,903.0 1123.0,907.2 1123.8,903.0 1124.6,907.2 1125.4,903.0 1126.2,907.2 1127.0,907.2 1127.8,911.4 1128.6,907.2 1129.4,907.2 1130.2,903.0 1131.0,911.4 1131.8,907.2 1132.6,907.2 1133.4,903.0 1135.0,903.0 1135.8,907.2 1136.6,903.0 1137.4,903.0 1138.2,907.2 1139.0,903.0 1139.8,903.0 1140.6,907.2 1146.2,907.2 1147.0,903.0 1149.4,903.0 1150.2,907.2 1151.8,907.2 1152.6,903.0 1154.2,903.0 1155.0,907.2 1155.8,907.2 1156.6,903.0 1157.4,903.0 1158.2,907.2 1159.8,907.2 1160.6,903.0 1161.4,903.0 1162.2,907.2 1167.0,907.2 1167.8,903.0 1168.6,903.0 1169.4,907.2 1170.2,903.0 1171.0,907.2 1171.8,903.0 1172.0,907.2 1172.6,903.0 1173.4,911.4 1174.2,907.2 1175.0,907.2 1175.8,911.4 1177.4,911.4 1178.2,907.2 1179.0,911.4 1179.8,915.6 1180.6,911.4 1183.0,911.4 1183.8,915.6 1187.0,915.6 1187.8,919.8 1188.6,911.4 1189.4,915.6 1191.0,915.6 1191.8,911.4 1192.6,919.8 1193.4,911.4 1194.2,915.6 1195.0,919.8 1195.8,911.4 1196.6,915.6 1197.4,919.8 1198.2,919.8 1199.0,915.6 1200.6,915.6 1201.4,911.4 1202.2,919.8 1203.0,915.6 1203.8,915.6 1204.6,919.8 1205.4,919.8 1206.2,915.6 1207.8,915.6 1208.6,911.4 1209.4,911.4 1210.2,919.8 1211.0,919.8 1211.8,915.6 1212.6,919.8 1213.4,915.6 1214.2,915.6 1215.0,919.8 1215.8,915.6 1219.0,915.6 1219.8,919.8 1220.6,915.6 1221.4,915.6 1222.2,919.8 1223.0,915.6 1223.8,915.6 1224.6,919.8 1225.4,915.6 1226.2,919.8 1227.0,924.0 1227.8,915.6 1228.6,911.4 1229.4,915.6 1230.2,915.6 1231.0,919.8 1231.8,919.8 1232.6,915.6 1233.4,911.4 1234.2,915.6 1235.0,924.0 1235.8,915.6 1236.6,919.8 1242.2,919.8 1243.0,915.6 1244.6,915.6 1245.4,919.8 1246.2,911.4 1247.0,919.8 1247.8,911.4 1248.6,919.8 1249.4,915.6 1250.2,924.0 1251.0,919.8 1251.8,915.6 1252.6,919.8 1253.4,919.8 1254.2,915.6 1255.0,915.6 1255.8,919.8 1256.6,911.4 1257.4,915.6 1258.2,915.6 1258.2,919.8 1259.0,915.6 1260.6,915.6 1261.4,919.8 1262.2,919.8 1263.0,915.6 1263.8,915.6 1264.6,911.4 1265.4,919.8 1266.2,919.8 1267.0,915.6 1267.8,915.6 1268.6,919.8 1269.4,915.6 1270.2,911.4 1271.0,919.8 1272.6,919.8 1273.4,915.6 1274.2,919.8 1275.0,915.6 1275.8,919.8 1279.0,919.8 1279.8,915.6 1280.6,919.8 1282.2,919.8 1283.0,915.6 1283.8,919.8 1284.6,919.8 1285.4,911.4 1286.2,919.8 1287.0,915.6 1287.8,915.6 1288.6,919.8 1289.4,915.6 1290.2,919.8 1291.0,915.6 1292.6,915.6 1293.4,924.0 1294.2,924.0 1295.0,915.6 1295.8,919.8 1296.6,915.6 1297.4,919.8 1298.2,915.6 1299.0,915.6 1299.8,919.8 1303.0,919.8 1303.8,915.6 1304.6,919.8 1305.4,915.6 1306.2,915.6 1307.0,919.8 1307.8,915.6 1308.6,915.6 1309.4,919.8 1311.0,919.8 1311.8,915.6 1312.6,924.0 1313.4,915.6 1314.2,924.0 1315.0,915.6 1315.8,919.8 1319.8,919.8 1320.6,915.6 1321.4,924.0 1322.2,919.8 1323.0,919.8 1323.8,915.6 1324.6,919.8 1325.4,924.0 1326.2,919.8 1329.4,919.8 1330.2,915.6 1331.0,919.8 1334.2,919.8 1335.0,915.6 1335.8,919.8 1341.4,919.8 1342.2,924.0 1343.0,919.8 1344.2,919.8 1344.6,924.0 1345.4,924.0 1346.2,919.8 1347.0,924.0 1347.8,919.8 1349.4,919.8 1350.2,924.0 1351.0,919.8 1351.8,919.8 1352.6,924.0 1353.4,919.8 1354.2,919.8 1355.0,924.0 1357.4,924.0 1358.2,928.2 1359.0,928.2 1359.8,924.0 1360.6,928.2 1361.4,928.2 1362.2,924.0 1363.0,924.0 1363.8,928.2 1364.6,924.0 1365.4,928.2 1366.2,924.0 1367.0,928.2 1367.2,928.2 1367.8,924.0 1369.4,924.0 1370.2,928.2 1371.0,924.0 1371.8,928.2 1372.6,928.2 1373.4,924.0 1374.2,928.2 1375.0,924.0 1375.8,928.2 1376.6,928.2 1377.4,924.0 1378.2,928.2 1379.8,928.2 1380.6,932.4 1381.4,932.4 1382.2,924.0 1383.0,932.4 1383.8,932.4 1384.6,928.2 1385.4,932.4 1386.2,928.2 1387.0,928.2 1387.8,924.0 1388.6,932.4 1389.4,924.0 1390.2,924.0 1391.0,928.2 1391.8,932.4 1392.6,928.2 1393.4,932.4 1394.2,932.4 1395.0,928.2 1395.8,932.4 1396.6,932.4 1397.4,928.2 1399.8,928.2 1400.6,932.4 1401.4,932.4 1402.2,924.0 1403.0,932.4 1403.8,924.0 1404.6,924.0 1405.4,928.2 1406.2,932.4 1407.0,928.2 1407.8,932.4 1408.6,928.2 1412.6,928.2 1413.4,936.6 1414.2,924.0 1415.0,932.4 1415.8,928.2 1416.6,932.4 1417.4,932.4 1418.2,928.2 1419.0,932.4 1419.8,928.2 1420.6,928.2 1421.4,932.4 1422.2,928.2 1423.0,932.4 1426.2,932.4 1427.0,928.2 1427.8,932.4 1428.6,924.0 1429.4,928.2 1430.2,932.4 1430.3,932.4 1431.0,928.2 1431.8,932.4 1432.6,928.2 1433.4,928.2 1434.2,932.4 1436.6,932.4 1437.4,936.6 1438.2,932.4 1439.8,932.4 1440.6,936.6 1444.6,936.6 1445.4,940.8 1446.2,936.6 1447.0,940.8 1447.5,936.6 1448.6,936.6 1449.4,945.0 1450.2,936.6 1451.0,940.8 1451.8,940.8 1452.6,936.6 1453.4,940.8 1455.0,940.8 1455.8,945.0 1456.6,940.8 1458.2,940.8 1459.0,949.2 1459.8,940.8 1463.8,940.8 1464.6,945.0 1465.4,945.0 1466.2,940.8 1467.0,940.8 1467.8,945.0 1468.6,940.8 1469.4,945.0 1470.2,945.0 1471.0,949.2 1471.8,945.0 1475.0,945.0 1475.8,940.8 1476.6,945.0 1477.4,940.8 1478.2,945.0 1479.8,945.0 1480.6,940.8 1481.4,945.0 1483.8,945.0 1484.6,949.2 1485.4,945.0 1486.2,949.2 1487.0,940.8 1488.6,940.8 1489.0,945.0 1489.4,945.0 1490.2,932.4 1491.0,924.0 1491.0,924.0 1491.8,940.8 1492.5,949.2 1492.6,953.4 1493.4,949.2 1494.0,945.0 1496.6,945.0 1497.4,940.8 1498.2,949.2 1499.0,945.0 1501.0,945.0" fill="none" stroke="#eec36b" stroke-width="6.7" stroke-linejoin="round" stroke-linecap="round"/>

<polyline points="247.3,1073.6 248.1,1075.8 248.9,1075.8 249.7,1073.6 250.5,1073.6 251.3,1075.8 252.1,1073.6 252.9,1075.8 255.3,1075.8 256.1,1073.6 256.9,1075.8 257.7,1073.6 264.1,1073.6 264.9,1075.8 265.7,1073.6 267.3,1073.6 268.1,1075.8 268.9,1073.6 271.3,1073.6 272.1,1075.8 272.9,1073.6 275.3,1073.6 276.1,1075.8 276.9,1073.6 278.5,1073.6 279.3,1075.8 280.1,1075.8 280.9,1073.6 281.7,1073.6 282.5,1075.8 283.3,1073.6 289.7,1073.6 290.5,1075.8 291.3,1073.6 292.1,1075.8 292.9,1073.6 298.5,1073.6 299.3,1075.8 300.1,1073.6 302.5,1073.6 303.3,1075.8 304.1,1075.8 304.9,1073.6 305.7,1075.8 307.3,1075.8 308.1,1073.6 308.9,1075.8 309.7,1073.6 315.3,1073.6 316.1,1075.8 316.9,1075.8 317.7,1073.6 324.9,1073.6 325.7,1075.8 326.5,1075.8 327.3,1073.6 328.9,1073.6 329.7,1075.8 330.5,1073.6 334.5,1073.6 335.3,1075.8 336.1,1073.6 339.3,1073.6 340.1,1075.8 340.9,1073.6 341.7,1073.6 342.5,1075.8 343.3,1073.6 344.1,1073.6 344.9,1075.8 345.7,1075.8 346.5,1073.6 347.3,1075.8 348.1,1073.6 349.7,1073.6 350.5,1075.8 351.3,1073.6 352.1,1073.6 352.9,1075.8 353.7,1073.6 358.5,1073.6 359.3,1075.8 360.1,1073.6 360.9,1075.8 361.7,1073.6 363.3,1073.6 364.1,1075.8 364.9,1073.6 371.3,1073.6 372.1,1075.8 372.9,1073.6 373.7,1073.6 374.5,1075.8 375.3,1073.6 380.1,1073.6 380.9,1075.8 381.7,1073.6 384.9,1073.6 385.7,1075.8 386.5,1073.6 389.7,1073.6 390.5,1075.8 391.3,1073.6 400.9,1073.6 401.7,1075.8 402.5,1075.8 403.3,1073.6 408.1,1073.6 408.9,1071.4 409.7,1073.6 416.9,1073.6 417.7,1075.8 418.5,1073.6 427.3,1073.6 428.1,1075.8 428.9,1073.6 435.3,1073.6 436.1,1075.8 436.9,1073.6 447.3,1073.6 448.1,1071.4 448.9,1073.6 453.7,1073.6 454.5,1071.4 455.3,1073.6 460.1,1073.6 460.9,1075.8 461.7,1073.6 476.9,1073.6 477.7,1071.4 478.5,1073.6 479.3,1073.6 480.1,1071.4 480.9,1073.6 481.7,1071.4 482.5,1073.6 496.1,1073.6 496.9,1071.4 497.7,1073.6 498.5,1071.4 500.1,1071.4 500.9,1073.6 501.7,1073.6 502.5,1071.4 504.1,1071.4 504.9,1073.6 505.7,1071.4 512.1,1071.4 512.9,1073.6 513.7,1071.4 528.9,1071.4 529.7,1069.2 532.9,1069.2 533.7,1071.4 534.5,1069.2 536.1,1069.2 536.9,1071.4 537.7,1069.2 538.5,1071.4 539.3,1069.2 540.9,1069.2 541.7,1071.4 544.1,1071.4 544.9,1069.2 555.3,1069.2 556.1,1067.0 556.9,1069.2 557.7,1069.2 558.5,1067.0 559.3,1069.2 564.1,1069.2 564.9,1067.0 565.7,1067.0 566.5,1069.2 567.3,1069.2 568.1,1067.0 568.9,1069.2 571.3,1069.2 572.1,1067.0 572.9,1067.0 572.9,1069.2 573.7,1067.0 574.5,1067.0 575.3,1069.2 576.1,1067.0 576.9,1069.2 577.7,1067.0 584.1,1067.0 584.9,1069.2 585.7,1067.0 589.7,1067.0 590.5,1069.2 591.3,1067.0 604.1,1067.0 604.9,1064.8 605.7,1067.0 608.1,1067.0 608.9,1064.8 609.7,1067.0 616.0,1067.0 616.1,1064.8 616.9,1067.0 618.5,1067.0 619.3,1064.8 620.9,1064.8 621.7,1067.0 622.5,1067.0 623.3,1064.8 625.7,1064.8 626.5,1067.0 627.3,1064.8 633.7,1064.8 634.5,1062.6 635.3,1064.8 636.1,1064.8 636.9,1062.6 637.7,1062.6 638.5,1064.8 639.3,1062.6 646.5,1062.6 647.3,1060.4 648.1,1062.6 648.9,1060.4 649.7,1060.4 650.5,1062.6 651.3,1060.4 653.7,1060.4 654.5,1058.2 659.3,1058.2 660.1,1056.0 660.9,1058.2 661.7,1058.2 662.5,1056.0 666.0,1056.0 666.5,1053.8 667.3,1053.8 668.1,1056.0 668.9,1053.8 672.1,1053.8 672.9,1051.6 673.7,1053.8 674.5,1051.6 677.7,1051.6 678.5,1049.4 679.3,1049.4 680.1,1051.6 680.9,1049.4 681.7,1049.4 682.5,1047.2 684.1,1047.2 684.9,1045.0 685.7,1047.2 686.0,1047.2 686.5,1045.0 688.1,1045.0 688.9,1042.8 690.5,1042.8 691.3,1040.6 692.1,1040.6 692.9,1038.4 694.5,1038.4 695.3,1036.2 696.1,1034.0 697.7,1034.0 698.5,1031.8 699.3,1031.8 700.1,1029.6 700.9,1029.6 701.7,1027.4 702.5,1027.4 703.3,1025.2 703.3,1027.4 704.1,1025.2 704.9,1023.0 706.5,1023.0 707.3,1020.8 708.1,1020.8 708.9,1018.6 709.7,1016.4 711.3,1016.4 712.1,1014.2 712.9,1012.0 713.7,1012.0 714.5,1009.8 715.3,1009.8 716.1,1007.6 716.9,1007.6 717.7,1005.4 718.5,1003.2 719.3,1003.2 720.1,1001.0 720.5,1001.0 720.9,998.8 721.7,998.8 722.5,996.6 723.3,994.4 724.1,992.2 724.9,992.2 725.7,987.8 726.5,987.8 727.3,985.6 728.1,983.4 728.9,981.2 729.7,979.0 730.5,976.8 731.3,974.6 732.1,972.4 732.9,970.2 733.7,968.0 734.5,968.0 734.8,965.8 735.3,965.8 736.1,963.6 736.9,961.4 737.7,959.2 738.5,957.0 739.3,957.0 740.1,954.8 740.9,952.6 741.7,950.4 742.5,948.2 743.3,948.2 744.1,946.0 744.9,943.8 745.7,941.6 746.3,939.4 746.5,939.4 747.3,937.2 748.1,935.0 748.9,932.8 749.7,930.6 750.5,928.4 751.3,926.2 752.1,924.0 752.9,921.8 753.7,919.6 754.5,917.4 754.9,915.2 755.3,913.0 756.1,910.8 756.9,906.4 757.7,902.0 758.5,895.4 759.3,893.2 760.1,888.8 760.6,886.6 760.9,886.6 761.7,884.4 762.5,882.2 763.3,880.0 764.1,877.8 764.9,875.6 765.7,873.4 766.4,871.2 766.5,873.4 767.3,871.2 771.3,871.2 772.1,869.0 772.9,869.0 773.7,866.8 774.5,869.0 776.1,869.0 776.9,866.8 777.7,869.0 778.5,866.8 780.7,866.8 780.9,864.6 782.5,864.6 783.3,862.4 784.1,862.4 784.9,860.2 785.7,860.2 786.5,858.0 787.3,855.8 788.1,853.6 789.3,853.6 789.7,851.4 790.5,851.4 791.3,849.2 792.1,847.0 792.9,844.8 793.7,844.8 794.5,842.6 796.9,842.6 797.7,844.8 798.5,847.0 799.3,849.2 800.1,851.4 800.8,853.6 800.9,853.6 801.7,855.8 802.5,858.0 803.3,860.2 804.1,864.6 804.9,866.8 805.7,871.2 806.5,873.4 806.5,873.4 807.3,875.6 808.1,877.8 808.9,880.0 809.7,882.2 810.5,884.4 811.3,886.6 812.1,888.8 812.9,891.0 813.7,893.2 814.5,895.4 815.1,895.4 815.3,897.6 816.1,897.6 816.9,899.8 817.7,902.0 818.5,902.0 819.3,904.2 820.1,904.2 820.9,906.4 821.7,908.6 822.5,908.6 823.3,910.8 824.1,910.8 824.9,913.0 825.7,913.0 826.5,915.2 827.3,915.2 828.1,917.4 828.9,917.4 829.5,919.6 830.5,919.6 831.3,921.8 832.1,921.8 832.9,924.0 833.7,924.0 834.5,926.2 836.1,926.2 836.9,928.4 838.5,928.4 839.3,930.6 840.1,930.6 840.9,932.8 841.7,932.8 842.5,935.0 843.8,935.0 844.1,937.2 844.9,937.2 845.7,939.4 847.3,939.4 848.1,941.6 848.9,943.8 849.7,946.0 851.3,946.0 852.1,948.2 852.9,950.4 853.7,950.4 854.5,952.6 855.3,954.8 856.1,954.8 856.9,957.0 857.7,957.0 858.2,959.2 858.5,959.2 859.3,961.4 860.1,963.6 861.7,963.6 862.5,965.8 863.3,968.0 864.1,968.0 864.9,970.2 865.7,972.4 866.5,972.4 867.3,974.6 868.1,976.8 868.9,976.8 869.7,979.0 870.5,979.0 871.3,981.2 872.1,983.4 872.9,983.4 873.7,985.6 874.5,985.6 875.3,987.8 876.1,990.0 876.9,990.0 877.7,992.2 878.5,992.2 879.3,994.4 880.1,996.6 880.9,996.6 881.7,998.8 882.5,998.8 883.3,1001.0 884.1,1001.0 884.9,1003.2 885.7,1005.4 886.5,1005.4 886.9,1007.6 888.1,1007.6 888.9,1009.8 889.7,1009.8 890.5,1012.0 892.1,1012.0 892.9,1014.2 893.7,1014.2 894.5,1016.4 895.3,1018.6 897.7,1018.6 898.5,1020.8 899.3,1020.8 900.1,1023.0 901.7,1023.0 902.5,1025.2 903.3,1023.0 904.1,1025.2 904.9,1027.4 906.5,1027.4 907.3,1029.6 908.1,1027.4 908.9,1029.6 909.7,1027.4 910.5,1029.6 912.1,1029.6 912.9,1031.8 913.7,1029.6 914.5,1031.8 916.1,1031.8 916.9,1034.0 917.7,1034.0 918.5,1031.8 919.3,1034.0 922.5,1034.0 923.3,1036.2 928.1,1036.2 928.9,1038.4 929.7,1036.2 930.5,1038.4 936.1,1038.4 936.9,1040.6 937.7,1038.4 938.5,1040.6 940.9,1040.6 941.7,1042.8 942.5,1040.6 944.2,1040.6 944.9,1042.8 948.1,1042.8 948.9,1045.0 949.7,1042.8 950.5,1045.0 952.9,1045.0 953.7,1042.8 954.5,1045.0 957.7,1045.0 958.5,1047.2 959.3,1047.2 960.1,1045.0 960.9,1047.2 968.9,1047.2 969.7,1049.4 970.5,1047.2 971.3,1049.4 979.3,1049.4 980.1,1051.6 984.9,1051.6 985.7,1053.8 986.5,1051.6 987.3,1049.4 988.1,1051.6 991.3,1051.6 992.1,1053.8 993.7,1053.8 994.5,1051.6 995.3,1051.6 996.1,1053.8 997.7,1053.8 998.5,1051.6 999.3,1053.8 1002.5,1053.8 1003.3,1056.0 1004.1,1053.8 1006.5,1053.8 1007.3,1056.0 1008.1,1053.8 1008.9,1053.8 1009.7,1056.0 1010.5,1053.8 1011.3,1056.0 1013.7,1056.0 1014.5,1053.8 1015.3,1056.0 1025.7,1056.0 1026.5,1058.2 1027.3,1056.0 1028.9,1056.0 1029.7,1058.2 1030.5,1056.0 1031.3,1058.2 1041.7,1058.2 1042.5,1060.4 1044.9,1060.4 1045.7,1058.2 1046.5,1060.4 1051.3,1060.4 1052.1,1058.2 1052.9,1060.4 1067.3,1060.4 1068.1,1062.6 1069.7,1062.6 1070.5,1060.4 1071.3,1060.4 1072.1,1062.6 1072.9,1062.6 1073.7,1060.4 1074.5,1060.4 1075.3,1062.6 1077.7,1062.6 1078.5,1060.4 1080.1,1060.4 1080.9,1062.6 1096.1,1062.6 1096.9,1064.8 1097.7,1062.6 1109.7,1062.6 1110.5,1064.8 1111.3,1062.6 1112.1,1062.6 1112.9,1064.8 1113.7,1062.6 1116.1,1062.6 1116.9,1064.8 1117.7,1062.6 1118.5,1062.6 1119.3,1064.8 1120.1,1064.8 1120.9,1062.6 1121.7,1062.6 1122.5,1064.8 1124.1,1064.8 1124.9,1062.6 1125.7,1064.8 1155.3,1064.8 1156.1,1067.0 1156.9,1067.0 1157.7,1064.8 1158.5,1067.0 1159.3,1064.8 1160.1,1067.0 1160.9,1067.0 1161.7,1064.8 1162.5,1067.0 1163.3,1064.8 1164.1,1067.0 1164.9,1067.0 1165.7,1064.8 1166.5,1067.0 1176.9,1067.0 1177.7,1069.2 1178.5,1067.0 1181.7,1067.0 1182.5,1069.2 1183.3,1067.0 1184.1,1069.2 1184.9,1067.0 1185.7,1069.2 1186.5,1067.0 1188.1,1067.0 1188.9,1069.2 1189.7,1067.0 1190.5,1067.0 1191.3,1069.2 1212.9,1069.2 1213.7,1071.4 1214.5,1069.2 1216.9,1069.2 1217.7,1071.4 1219.3,1071.4 1220.1,1069.2 1220.9,1071.4 1221.7,1071.4 1222.5,1069.2 1224.1,1069.2 1224.9,1071.4 1225.7,1071.4 1226.5,1069.2 1227.3,1071.4 1232.9,1071.4 1233.7,1069.2 1234.5,1071.4 1246.5,1071.4 1247.3,1073.6 1248.9,1073.6 1249.7,1071.4 1250.5,1071.4 1251.3,1073.6 1258.5,1073.6 1259.3,1071.4 1260.1,1073.6 1260.9,1071.4 1261.7,1073.6 1262.5,1071.4 1263.3,1073.6 1264.1,1073.6 1264.9,1071.4 1265.7,1071.4 1266.5,1073.6 1267.3,1071.4 1268.1,1073.6 1275.3,1073.6 1276.1,1071.4 1276.9,1073.6 1277.7,1071.4 1278.5,1073.6 1280.1,1073.6 1280.9,1071.4 1281.7,1071.4 1282.5,1073.6 1284.1,1073.6 1284.9,1071.4 1285.7,1073.6 1288.9,1073.6 1289.7,1071.4 1290.5,1073.6 1291.3,1071.4 1292.1,1073.6 1292.9,1073.6 1293.7,1071.4 1294.5,1073.6 1312.1,1073.6 1312.9,1071.4 1313.7,1073.6 1314.5,1071.4 1315.3,1073.6 1326.5,1073.6 1327.3,1075.8 1328.1,1073.6 1328.9,1073.6 1329.7,1075.8 1330.5,1073.6 1332.9,1073.6 1333.7,1075.8 1334.5,1075.8 1335.3,1073.6 1336.1,1073.6 1336.9,1075.8 1338.5,1075.8 1339.3,1073.6 1340.1,1075.8 1341.7,1075.8 1342.5,1073.6 1343.3,1075.8 1344.9,1075.8 1345.7,1073.6 1346.5,1075.8 1350.5,1075.8 1351.3,1078.0 1352.1,1075.8 1357.7,1075.8 1358.5,1078.0 1359.3,1075.8 1360.1,1075.8 1360.9,1078.0 1361.7,1075.8 1363.3,1075.8 1364.1,1078.0 1365.7,1078.0 1366.5,1075.8 1367.3,1078.0 1369.7,1078.0 1370.5,1075.8 1371.3,1078.0 1372.1,1075.8 1372.9,1078.0 1372.9,1075.8 1373.7,1078.0 1376.9,1078.0 1377.7,1080.2 1378.5,1078.0 1379.3,1078.0 1380.1,1080.2 1380.9,1078.0 1381.7,1080.2 1382.5,1080.2 1383.3,1078.0 1384.1,1078.0 1384.9,1080.2 1385.7,1078.0 1386.5,1078.0 1387.3,1080.2 1388.1,1080.2 1388.9,1078.0 1389.7,1080.2 1392.1,1080.2 1392.9,1078.0 1393.7,1080.2 1400.9,1080.2 1401.7,1082.4 1402.5,1082.4 1403.3,1080.2 1404.1,1082.4 1404.9,1080.2 1405.7,1080.2 1406.5,1082.4 1407.3,1080.2 1408.1,1082.4 1410.5,1082.4 1411.3,1080.2 1412.1,1082.4 1419.3,1082.4 1420.1,1084.6 1420.9,1082.4 1425.7,1082.4 1426.5,1084.6 1427.3,1084.6 1428.1,1082.4 1428.9,1084.6 1429.7,1082.4 1430.3,1084.6 1430.5,1082.4 1431.3,1082.4 1432.1,1084.6 1447.3,1084.6 1448.1,1086.8 1448.9,1084.6 1449.7,1086.8 1450.5,1084.6 1451.3,1084.6 1452.1,1086.8 1452.9,1084.6 1453.7,1084.6 1454.5,1086.8 1455.3,1084.6 1456.9,1084.6 1457.7,1086.8 1470.5,1086.8 1471.3,1084.6 1472.1,1086.8 1491.3,1086.8 1492.1,1084.6 1492.9,1086.8 1496.5,1086.8" fill="none" stroke="#0000ff" stroke-width="6.7" stroke-linejoin="round" stroke-linecap="round"/>

<polyline points="253.1,1248.0 254.7,1248.0 255.5,1246.0 256.3,1248.0 257.1,1246.0 257.9,1248.0 258.7,1246.0 261.9,1246.0 262.7,1248.0 264.3,1248.0 265.1,1246.0 265.9,1248.0 266.7,1246.0 269.1,1246.0 269.9,1248.0 270.0,1246.0 270.7,1248.0 273.1,1248.0 273.9,1250.0 276.3,1250.0 277.1,1252.0 277.9,1250.0 312.3,1250.0 313.1,1252.0 313.9,1250.0 323.5,1250.0 324.3,1248.0 325.1,1250.0 397.9,1250.0 398.7,1252.0 399.5,1250.0 409.1,1250.0 409.9,1248.0 410.7,1250.0 411.5,1250.0 412.3,1248.0 413.1,1250.0 414.7,1250.0 415.5,1248.0 416.3,1250.0 417.1,1250.0 417.9,1252.0 418.0,1250.0 418.7,1236.0 419.5,1204.0 420.3,1186.0 420.3,1186.0 421.1,1188.0 421.9,1192.0 422.7,1198.0 423.5,1206.0 424.3,1212.0 425.1,1218.0 425.2,1218.0 425.9,1222.0 426.7,1228.0 427.5,1232.0 428.3,1236.0 429.1,1238.0 429.9,1238.0 430.7,1240.0 431.5,1240.0 432.3,1242.0 434.7,1242.0 435.2,1244.0 435.5,1244.0 436.3,1242.0 437.1,1244.0 445.9,1244.0 446.7,1246.0 447.5,1244.0 478.7,1244.0 479.5,1242.0 480.3,1244.0 492.3,1244.0 493.1,1246.0 493.9,1244.0 505.9,1244.0 506.7,1242.0 507.5,1244.0 508.3,1244.0 509.1,1242.0 515.5,1242.0 516.3,1240.0 517.1,1242.0 517.9,1240.0 518.7,1242.0 519.5,1242.0 520.3,1240.0 521.1,1242.0 521.9,1242.0 522.7,1240.0 523.5,1242.0 524.3,1242.0 525.1,1240.0 525.9,1240.0 526.7,1242.0 527.5,1240.0 528.3,1240.0 529.1,1242.0 530.7,1242.0 531.5,1240.0 532.3,1240.0 533.1,1242.0 533.9,1240.0 534.7,1240.0 535.5,1242.0 536.3,1240.0 537.1,1240.0 537.9,1242.0 539.5,1242.0 540.3,1240.0 541.1,1242.0 541.9,1240.0 542.7,1240.0 543.5,1242.0 544.3,1242.0 545.1,1240.0 545.9,1242.0 546.7,1240.0 548.3,1240.0 549.1,1242.0 549.9,1242.0 550.7,1240.0 551.5,1240.0 552.3,1242.0 554.7,1242.0 555.5,1240.0 557.1,1240.0 557.9,1242.0 559.5,1242.0 560.3,1240.0 561.1,1242.0 562.7,1242.0 563.5,1240.0 564.3,1242.0 565.1,1240.0 565.9,1242.0 566.7,1242.0 567.5,1240.0 568.3,1242.0 569.1,1242.0 569.9,1240.0 570.7,1240.0 571.5,1242.0 572.3,1240.0 573.1,1242.0 573.9,1240.0 575.5,1240.0 576.3,1242.0 580.3,1242.0 581.1,1240.0 585.1,1240.0 585.9,1242.0 586.7,1240.0 587.5,1242.0 588.3,1240.0 589.1,1240.0 589.9,1242.0 590.7,1240.0 593.9,1240.0 594.7,1242.0 595.5,1240.0 596.3,1240.0 597.1,1242.0 597.9,1240.0 601.6,1240.0 601.9,1242.0 602.7,1240.0 609.9,1240.0 610.7,1238.0 615.5,1238.0 616.3,1236.0 625.1,1236.0 625.9,1234.0 626.7,1236.0 638.7,1236.0 639.5,1234.0 640.3,1236.0 642.7,1236.0 643.5,1234.0 644.3,1234.0 645.1,1236.0 645.9,1236.0 646.7,1234.0 647.5,1236.0 647.5,1234.0 650.7,1234.0 651.5,1232.0 653.9,1232.0 654.7,1230.0 657.9,1230.0 658.7,1228.0 659.5,1228.0 660.3,1230.0 661.1,1228.0 665.1,1228.0 665.9,1226.0 666.7,1228.0 667.5,1226.0 675.5,1226.0 676.3,1224.0 678.7,1224.0 679.5,1222.0 681.1,1222.0 681.9,1220.0 685.1,1220.0 685.9,1218.0 687.5,1218.0 688.3,1216.0 690.7,1216.0 691.5,1214.0 692.3,1216.0 693.9,1216.0 694.7,1214.0 697.1,1214.0 697.9,1212.0 700.4,1212.0 701.1,1210.0 702.7,1210.0 703.5,1208.0 704.3,1206.0 705.1,1206.0 705.9,1204.0 706.7,1202.0 707.5,1202.0 708.3,1200.0 709.0,1198.0 709.1,1198.0 709.9,1196.0 710.7,1194.0 711.5,1192.0 712.3,1190.0 713.1,1188.0 713.9,1186.0 714.7,1184.0 715.5,1182.0 716.3,1180.0 717.1,1178.0 717.6,1176.0 717.9,1174.0 718.7,1172.0 719.5,1168.0 720.3,1166.0 721.1,1162.0 721.9,1158.0 722.7,1156.0 723.5,1152.0 724.3,1148.0 725.1,1146.0 725.9,1142.0 726.2,1140.0 726.7,1140.0 727.5,1136.0 728.3,1134.0 729.1,1132.0 729.9,1130.0 730.7,1126.0 731.5,1124.0 732.3,1122.0 733.1,1120.0 733.9,1116.0 734.7,1112.0 734.8,1112.0 735.5,1108.0 736.3,1104.0 737.1,1100.0 737.9,1094.0 738.7,1088.0 739.1,1086.0 739.5,1084.0 740.3,1078.0 741.1,1072.0 741.9,1066.0 742.7,1060.0 743.4,1054.0 743.5,1054.0 744.3,1050.0 745.1,1046.0 745.9,1042.0 746.7,1038.0 747.5,1036.0 747.7,1034.0 748.3,1032.0 749.1,1030.0 749.9,1028.0 750.7,1026.0 751.5,1026.0 752.3,1024.0 753.1,1022.0 753.9,1020.0 754.7,1018.0 755.5,1016.0 756.3,1014.0 756.3,1014.0 757.1,1012.0 757.9,1010.0 758.7,1008.0 759.5,1004.0 760.3,1002.0 761.1,1000.0 761.9,996.0 762.7,994.0 763.5,990.0 764.3,988.0 764.9,986.0 765.1,986.0 765.9,984.0 766.7,980.0 767.5,978.0 768.3,976.0 769.1,972.0 769.9,970.0 770.7,968.0 771.5,966.0 772.3,964.0 773.1,962.0 773.6,960.0 773.9,960.0 774.7,958.0 775.5,956.0 776.3,954.0 777.1,954.0 777.9,952.0 778.7,950.0 779.5,950.0 780.3,948.0 781.1,946.0 781.9,946.0 782.7,944.0 783.5,944.0 783.6,942.0 785.1,942.0 785.9,940.0 786.7,938.0 788.3,938.0 789.1,936.0 789.9,936.0 790.7,934.0 791.5,934.0 792.3,932.0 793.1,932.0 793.6,930.0 793.9,930.0 794.7,928.0 795.5,924.0 796.3,922.0 797.1,918.0 797.9,916.0 798.7,914.0 800.3,914.0 801.1,916.0 801.9,918.0 802.7,920.0 803.5,924.0 804.3,926.0 805.1,928.0 805.1,928.0 805.9,932.0 806.7,934.0 807.5,936.0 808.3,940.0 809.1,944.0 809.9,948.0 810.7,950.0 811.5,954.0 812.3,958.0 812.3,958.0 813.1,962.0 813.9,966.0 814.7,970.0 815.5,974.0 816.3,978.0 817.1,982.0 817.9,986.0 818.0,986.0 818.7,988.0 819.5,990.0 820.3,992.0 821.1,996.0 821.9,996.0 822.7,998.0 823.5,1000.0 824.3,1000.0 825.1,1002.0 825.9,1004.0 826.7,1006.0 827.5,1006.0 828.3,1008.0 830.7,1008.0 830.9,1010.0 831.5,1010.0 832.3,1008.0 833.1,1008.0 833.9,1006.0 834.7,1006.0 835.5,1004.0 836.3,1002.0 837.1,1002.0 837.9,1000.0 838.7,1000.0 839.5,998.0 841.1,998.0 841.9,996.0 843.5,996.0 844.3,994.0 845.1,992.0 849.1,992.0 849.9,994.0 850.7,996.0 851.5,1000.0 852.3,1002.0 853.1,1006.0 853.9,1010.0 853.9,1010.0 854.7,1012.0 855.5,1016.0 856.3,1020.0 857.1,1024.0 857.9,1028.0 858.7,1032.0 859.5,1036.0 860.3,1040.0 861.0,1044.0 861.1,1044.0 861.9,1048.0 862.7,1052.0 863.5,1056.0 864.3,1058.0 865.1,1062.0 865.9,1066.0 866.7,1070.0 867.5,1072.0 868.2,1074.0 868.3,1076.0 869.1,1078.0 869.9,1080.0 870.7,1082.0 871.5,1084.0 872.3,1086.0 873.1,1088.0 873.9,1090.0 874.7,1092.0 875.5,1096.0 876.3,1096.0 877.1,1098.0 877.9,1100.0 878.3,1100.0 878.7,1102.0 879.5,1104.0 880.3,1106.0 881.1,1106.0 881.9,1108.0 882.7,1110.0 883.5,1110.0 884.3,1112.0 885.1,1112.0 885.9,1114.0 886.7,1116.0 887.5,1116.0 888.3,1118.0 889.1,1120.0 889.7,1120.0 889.9,1122.0 890.7,1124.0 891.5,1124.0 892.3,1126.0 893.1,1128.0 893.9,1130.0 894.7,1132.0 895.5,1132.0 896.3,1134.0 897.1,1136.0 897.9,1138.0 898.7,1140.0 899.5,1140.0 900.3,1142.0 901.1,1144.0 901.9,1146.0 902.7,1148.0 903.5,1148.0 904.1,1150.0 904.3,1150.0 905.1,1152.0 905.9,1152.0 906.7,1154.0 907.5,1156.0 908.3,1156.0 909.1,1158.0 909.9,1160.0 910.7,1160.0 911.5,1162.0 912.3,1164.0 913.1,1164.0 913.9,1166.0 914.7,1168.0 915.5,1168.0 916.3,1170.0 917.1,1172.0 918.7,1172.0 919.5,1174.0 920.3,1176.0 921.1,1176.0 921.9,1178.0 922.7,1178.0 923.5,1180.0 925.1,1180.0 925.9,1182.0 926.7,1184.0 927.5,1184.0 928.3,1186.0 929.1,1186.0 929.9,1188.0 930.7,1188.0 931.5,1190.0 933.1,1190.0 933.9,1192.0 935.6,1192.0 936.3,1194.0 937.9,1194.0 938.7,1196.0 941.9,1196.0 942.7,1198.0 945.1,1198.0 945.9,1200.0 948.3,1200.0 949.1,1202.0 953.1,1202.0 953.9,1204.0 957.1,1204.0 957.9,1206.0 960.3,1206.0 961.1,1208.0 961.9,1206.0 962.7,1206.0 963.5,1208.0 965.9,1208.0 966.7,1210.0 975.5,1210.0 976.3,1212.0 977.1,1210.0 977.9,1210.0 978.7,1212.0 990.7,1212.0 991.5,1214.0 992.3,1212.0 993.9,1212.0 994.7,1214.0 996.3,1214.0 997.1,1212.0 997.9,1214.0 998.7,1214.0 999.5,1212.0 1000.3,1214.0 1005.1,1214.0 1005.9,1216.0 1009.1,1216.0 1009.9,1214.0 1010.7,1216.0 1017.1,1216.0 1017.9,1218.0 1025.1,1218.0 1025.9,1220.0 1033.1,1220.0 1033.9,1222.0 1034.7,1222.0 1035.5,1220.0 1036.3,1220.0 1037.1,1222.0 1040.3,1222.0 1041.1,1224.0 1041.9,1222.0 1042.7,1222.0 1043.5,1224.0 1044.3,1224.0 1045.1,1226.0 1045.9,1224.0 1048.3,1224.0 1049.1,1226.0 1049.9,1224.0 1051.5,1224.0 1052.3,1226.0 1053.9,1226.0 1054.7,1228.0 1055.5,1226.0 1056.3,1228.0 1066.7,1228.0 1067.5,1230.0 1077.1,1230.0 1077.9,1232.0 1078.7,1230.0 1079.5,1232.0 1085.9,1232.0 1086.7,1234.0 1087.5,1232.0 1089.1,1232.0 1089.9,1234.0 1106.7,1234.0 1107.5,1236.0 1108.3,1236.0 1109.1,1234.0 1109.9,1236.0 1110.7,1234.0 1111.5,1234.0 1112.3,1236.0 1113.9,1236.0 1114.7,1234.0 1115.5,1234.0 1116.3,1236.0 1117.9,1236.0 1118.7,1234.0 1123.5,1234.0 1124.3,1236.0 1125.1,1234.0 1127.5,1234.0 1128.3,1236.0 1129.1,1234.0 1129.9,1236.0 1132.3,1236.0 1133.1,1234.0 1133.9,1234.0 1134.7,1236.0 1135.5,1234.0 1136.3,1234.0 1137.1,1236.0 1137.9,1234.0 1138.7,1234.0 1139.5,1236.0 1140.3,1234.0 1141.1,1236.0 1144.3,1236.0 1145.1,1234.0 1145.9,1236.0 1151.5,1236.0 1152.3,1238.0 1153.1,1236.0 1154.7,1236.0 1155.5,1238.0 1156.3,1238.0 1157.1,1236.0 1157.9,1236.0 1158.7,1238.0 1165.9,1238.0 1166.7,1240.0 1175.5,1240.0 1176.3,1242.0 1183.5,1242.0 1184.3,1244.0 1185.1,1242.0 1185.9,1242.0 1186.5,1244.0 1186.7,1242.0 1187.5,1244.0 1188.3,1242.0 1189.1,1244.0 1189.9,1242.0 1190.7,1242.0 1191.5,1244.0 1201.1,1244.0 1201.9,1246.0 1202.7,1244.0 1203.5,1246.0 1204.3,1246.0 1205.1,1244.0 1205.9,1246.0 1216.3,1246.0 1217.1,1248.0 1217.9,1246.0 1219.5,1246.0 1220.3,1248.0 1229.1,1248.0 1229.5,1250.0 1229.9,1248.0 1231.5,1248.0 1232.3,1250.0 1233.1,1248.0 1233.9,1250.0 1241.9,1250.0 1242.7,1252.0 1243.5,1252.0 1244.3,1250.0 1245.1,1250.0 1245.9,1252.0 1246.7,1250.0 1247.5,1252.0 1253.1,1252.0 1253.9,1254.0 1254.7,1254.0 1255.5,1252.0 1256.3,1252.0 1257.1,1254.0 1257.9,1254.0 1258.7,1252.0 1259.5,1252.0 1260.3,1254.0 1270.7,1254.0 1271.5,1256.0 1272.5,1256.0 1273.1,1254.0 1273.9,1256.0 1274.7,1254.0 1275.5,1256.0 1276.3,1254.0 1277.1,1256.0 1277.9,1256.0 1278.7,1254.0 1279.5,1256.0 1281.1,1256.0 1281.9,1258.0 1282.7,1256.0 1289.1,1256.0 1289.9,1258.0 1299.5,1258.0 1300.3,1260.0 1301.1,1258.0 1301.9,1258.0 1302.7,1260.0 1303.5,1258.0 1304.3,1260.0 1305.1,1260.0 1305.9,1258.0 1306.7,1258.0 1307.5,1260.0 1308.3,1260.0 1309.1,1258.0 1309.9,1260.0 1319.5,1260.0 1320.3,1262.0 1321.1,1260.0 1325.1,1260.0 1325.9,1262.0 1326.7,1262.0 1327.5,1260.0 1328.3,1262.0 1329.1,1260.0 1329.9,1262.0 1344.3,1262.0 1345.1,1264.0 1345.9,1262.0 1346.7,1264.0 1347.5,1262.0 1348.3,1262.0 1349.1,1264.0 1349.9,1264.0 1350.7,1262.0 1351.5,1264.0 1357.9,1264.0 1358.6,1266.0 1358.7,1264.0 1360.3,1264.0 1361.1,1266.0 1362.7,1266.0 1363.5,1264.0 1364.3,1266.0 1365.1,1266.0 1365.9,1264.0 1366.7,1266.0 1372.3,1266.0 1373.1,1268.0 1382.7,1268.0 1383.5,1270.0 1384.3,1268.0 1387.5,1268.0 1388.3,1270.0 1389.1,1268.0 1394.7,1268.0 1395.5,1270.0 1396.3,1268.0 1397.1,1268.0 1397.9,1270.0 1398.7,1270.0 1399.5,1268.0 1409.9,1268.0 1410.7,1270.0 1411.5,1268.0 1428.3,1268.0 1429.1,1266.0 1429.9,1266.0 1430.7,1268.0 1436.0,1268.0" fill="none" stroke="#008000" stroke-width="6.7" stroke-linejoin="round" stroke-linecap="round"/>

<polyline points="250.2,1360.0 251.0,1356.6 251.8,1360.0 252.6,1363.4 253.4,1356.6 254.2,1360.0 255.0,1360.0 255.8,1363.4 256.6,1360.0 257.4,1360.0 258.2,1363.4 259.0,1360.0 259.8,1360.0 260.6,1356.6 261.4,1356.6 262.2,1360.0 263.0,1360.0 263.8,1356.6 264.6,1360.0 272.6,1360.0 273.4,1356.6 274.2,1360.0 276.6,1360.0 277.4,1356.6 278.2,1360.0 279.0,1363.4 279.8,1360.0 286.2,1360.0 287.0,1363.4 287.8,1360.0 289.4,1360.0 290.2,1363.4 291.0,1360.0 291.8,1356.6 292.6,1360.0 294.2,1360.0 295.0,1356.6 295.8,1360.0 296.6,1363.4 297.4,1360.0 298.2,1360.0 299.0,1356.6 299.8,1360.0 304.6,1360.0 305.4,1356.6 306.2,1360.0 307.0,1356.6 307.8,1360.0 310.2,1360.0 311.0,1356.6 311.8,1360.0 324.6,1360.0 325.4,1356.6 326.2,1360.0 334.2,1360.0 335.0,1356.6 335.8,1360.0 339.0,1360.0 339.8,1356.6 340.6,1360.0 347.8,1360.0 348.6,1356.6 349.4,1360.0 351.8,1360.0 352.6,1356.6 353.4,1360.0 357.4,1360.0 358.2,1356.6 359.0,1360.0 360.6,1360.0 361.4,1356.6 362.2,1360.0 363.8,1360.0 364.6,1356.6 365.4,1360.0 366.2,1360.0 367.0,1356.6 367.8,1360.0 372.6,1360.0 373.4,1356.6 374.2,1356.6 375.0,1360.0 375.8,1360.0 376.6,1356.6 377.4,1356.6 378.2,1360.0 385.4,1360.0 386.2,1356.6 387.0,1360.0 389.4,1360.0 390.2,1356.6 391.0,1356.6 391.8,1360.0 392.6,1360.0 393.4,1356.6 394.2,1363.4 395.0,1360.0 396.6,1360.0 397.4,1356.6 398.2,1360.0 399.0,1360.0 399.8,1356.6 401.4,1356.6 402.2,1360.0 403.8,1360.0 404.6,1356.6 405.4,1360.0 406.2,1356.6 407.0,1360.0 408.6,1360.0 409.4,1356.6 410.2,1360.0 411.0,1360.0 411.8,1356.6 412.6,1356.6 413.4,1360.0 414.2,1356.6 415.8,1356.6 416.6,1360.0 417.4,1360.0 418.2,1356.6 419.0,1360.0 419.8,1356.6 420.6,1360.0 421.4,1356.6 422.2,1360.0 423.0,1356.6 423.8,1356.6 424.6,1360.0 425.4,1360.0 426.2,1356.6 431.0,1356.6 431.8,1360.0 432.6,1356.6 434.2,1356.6 435.0,1360.0 435.8,1356.6 436.6,1360.0 437.4,1356.6 442.2,1356.6 443.0,1360.0 443.8,1356.6 445.4,1356.6 446.2,1360.0 447.0,1356.6 447.8,1356.6 448.6,1360.0 449.4,1356.6 450.2,1356.6 451.0,1360.0 453.4,1360.0 454.2,1356.6 456.6,1356.6 457.4,1360.0 458.2,1356.6 466.2,1356.6 467.0,1360.0 468.6,1360.0 469.4,1356.6 470.2,1356.6 471.0,1360.0 471.8,1356.6 472.6,1356.6 473.4,1360.0 474.2,1356.6 475.0,1360.0 475.8,1356.6 482.2,1356.6 483.0,1360.0 483.8,1356.6 488.6,1356.6 489.4,1353.2 490.2,1356.6 492.6,1356.6 493.4,1360.0 494.2,1356.6 496.6,1356.6 497.4,1353.2 498.2,1356.6 504.6,1356.6 505.4,1353.2 506.2,1356.6 523.8,1356.6 524.6,1353.2 525.4,1356.6 526.2,1356.6 527.0,1353.2 527.8,1353.2 528.6,1356.6 529.4,1353.2 531.8,1353.2 532.6,1356.6 533.4,1353.2 534.2,1349.8 535.0,1353.2 535.8,1356.6 536.6,1353.2 541.4,1353.2 542.2,1349.8 543.0,1349.8 543.8,1353.2 545.4,1353.2 546.2,1349.8 547.0,1349.8 547.8,1353.2 549.4,1353.2 550.2,1349.8 551.0,1353.2 560.6,1353.2 561.4,1349.8 562.2,1353.2 563.0,1349.8 565.4,1349.8 566.2,1353.2 568.6,1353.2 569.4,1349.8 570.2,1353.2 575.8,1353.2 576.6,1349.8 577.4,1353.2 578.2,1349.8 579.0,1349.8 579.8,1353.2 581.4,1353.2 582.2,1356.6 583.0,1353.2 583.8,1349.8 584.6,1353.2 585.4,1353.2 586.2,1349.8 587.0,1349.8 587.8,1353.2 588.6,1353.2 589.4,1349.8 590.2,1353.2 593.4,1353.2 594.2,1349.8 595.0,1353.2 597.4,1353.2 598.2,1349.8 599.0,1353.2 601.4,1353.2 602.2,1349.8 603.8,1349.8 604.6,1353.2 605.4,1353.2 606.2,1349.8 607.0,1349.8 607.8,1353.2 608.6,1349.8 609.4,1353.2 611.0,1353.2 611.8,1349.8 612.6,1353.2 613.4,1353.2 614.2,1349.8 615.0,1353.2 615.8,1349.8 618.2,1349.8 619.0,1353.2 619.8,1349.8 620.6,1353.2 621.4,1349.8 622.2,1353.2 623.0,1349.8 623.8,1353.2 624.6,1349.8 627.0,1349.8 627.8,1353.2 628.6,1353.2 629.4,1349.8 630.2,1349.8 631.0,1353.2 631.8,1349.8 632.6,1353.2 635.0,1353.2 635.8,1349.8 637.4,1349.8 638.2,1353.2 639.0,1353.2 639.8,1349.8 640.6,1349.8 641.4,1346.4 642.2,1349.8 652.6,1349.8 653.4,1346.4 654.2,1346.4 655.0,1349.8 655.8,1346.4 656.6,1349.8 658.2,1349.8 659.0,1346.4 659.0,1349.8 659.8,1346.4 661.4,1346.4 662.2,1349.8 663.0,1346.4 664.6,1346.4 665.4,1349.8 666.2,1346.4 673.4,1346.4 674.2,1343.0 675.0,1346.4 676.6,1346.4 676.7,1343.0 677.4,1346.4 679.8,1346.4 680.6,1343.0 690.2,1343.0 691.0,1339.6 691.8,1343.0 696.6,1343.0 697.4,1339.6 698.2,1339.6 699.0,1343.0 699.8,1339.6 700.6,1343.0 701.4,1339.6 711.0,1339.6 711.8,1336.2 712.6,1339.6 714.2,1339.6 715.0,1336.2 718.2,1336.2 719.0,1339.6 719.8,1336.2 721.4,1336.2 722.2,1332.8 723.0,1336.2 723.8,1332.8 729.4,1332.8 730.2,1329.4 731.0,1332.8 731.8,1329.4 732.6,1329.4 733.4,1326.0 735.0,1326.0 735.8,1322.6 736.6,1326.0 737.4,1326.0 738.2,1322.6 739.8,1322.6 740.6,1319.2 741.4,1319.2 742.2,1315.8 743.0,1315.8 743.8,1312.4 745.4,1312.4 746.2,1309.0 746.5,1309.0 747.0,1305.6 748.6,1305.6 749.4,1302.2 750.2,1298.8 751.0,1295.4 751.8,1292.0 752.0,1292.0 752.6,1285.2 753.4,1278.4 754.2,1271.6 755.0,1261.4 755.7,1254.6 755.8,1251.2 756.6,1244.4 757.4,1234.2 758.2,1224.0 759.0,1217.2 759.3,1217.2 759.8,1213.8 760.6,1210.4 761.4,1207.0 762.2,1203.6 763.0,1200.2 765.4,1200.2 766.2,1196.8 767.0,1200.2 767.8,1196.8 768.6,1200.2 769.4,1196.8 770.2,1200.2 770.3,1200.2 771.0,1196.8 771.8,1193.4 772.6,1190.0 773.4,1183.2 774.2,1179.8 775.0,1176.4 775.8,1176.4 776.6,1173.0 777.4,1176.4 778.2,1176.4 779.0,1173.0 781.4,1173.0 782.2,1169.6 783.0,1173.0 784.6,1173.0 785.4,1176.4 786.2,1176.4 787.0,1179.8 787.8,1179.8 788.6,1183.2 790.2,1183.2 790.8,1186.6 791.8,1186.6 792.6,1183.2 795.0,1183.2 795.8,1179.8 796.6,1176.4 798.2,1176.4 799.0,1173.0 799.8,1169.6 800.6,1166.2 801.4,1162.8 802.2,1162.8 803.0,1159.4 803.8,1156.0 804.6,1156.0 805.1,1152.6 809.4,1152.6 810.2,1149.2 814.2,1149.2 815.0,1145.8 817.4,1145.8 818.2,1149.2 819.0,1145.8 819.8,1149.2 820.6,1145.8 823.0,1145.8 823.8,1149.2 825.4,1149.2 826.2,1152.6 827.0,1156.0 832.6,1156.0 833.4,1152.6 834.2,1156.0 835.0,1152.6 835.8,1149.2 838.1,1149.2 838.2,1145.8 839.0,1145.8 839.8,1142.4 840.6,1139.0 841.4,1135.6 842.2,1135.6 843.0,1132.2 843.8,1132.2 844.6,1128.8 847.0,1128.8 847.8,1125.4 851.8,1125.4 852.6,1122.0 853.4,1125.4 855.0,1125.4 855.8,1122.0 856.6,1125.4 856.7,1122.0 857.4,1125.4 858.2,1125.4 859.0,1128.8 859.8,1132.2 860.6,1135.6 861.4,1139.0 862.2,1142.4 862.5,1142.4 863.0,1145.8 863.8,1145.8 864.6,1149.2 865.4,1152.6 866.2,1152.6 867.0,1156.0 869.4,1156.0 870.2,1152.6 871.0,1156.0 872.6,1156.0 873.4,1152.6 874.2,1156.0 875.0,1156.0 875.4,1152.6 876.6,1152.6 877.4,1156.0 878.2,1159.4 879.0,1162.8 879.8,1166.2 880.6,1169.6 881.4,1173.0 882.2,1173.0 882.6,1176.4 883.0,1176.4 883.8,1179.8 884.6,1179.8 885.4,1183.2 886.2,1186.6 887.0,1186.6 887.8,1190.0 888.6,1190.0 889.4,1193.4 890.2,1196.8 891.0,1200.2 891.8,1200.2 892.6,1203.6 893.4,1203.6 894.2,1207.0 895.0,1210.4 896.6,1210.4 897.4,1213.8 898.2,1217.2 899.8,1217.2 900.6,1220.6 901.4,1220.6 902.2,1224.0 903.8,1224.0 904.6,1227.4 906.2,1227.4 907.0,1230.8 907.8,1230.8 908.6,1234.2 909.4,1234.2 910.2,1237.6 911.8,1237.6 912.6,1241.0 914.2,1241.0 915.0,1244.4 916.6,1244.4 917.4,1247.8 918.2,1251.2 919.0,1247.8 919.8,1251.2 920.6,1251.2 921.4,1254.6 923.0,1254.6 923.8,1258.0 924.6,1258.0 925.4,1261.4 926.2,1261.4 927.0,1264.8 928.6,1264.8 929.4,1268.2 931.0,1268.2 931.8,1271.6 934.2,1271.6 935.0,1275.0 935.8,1275.0 936.6,1278.4 937.4,1278.4 938.2,1281.8 940.6,1281.8 941.4,1285.2 942.2,1285.2 943.0,1288.6 944.6,1288.6 945.4,1292.0 947.0,1292.0 947.8,1295.4 949.4,1295.4 950.2,1298.8 951.8,1298.8 952.6,1302.2 955.0,1302.2 955.7,1305.6 955.8,1302.2 956.6,1305.6 958.2,1305.6 959.0,1309.0 960.6,1309.0 961.4,1312.4 963.8,1312.4 964.6,1315.8 970.0,1315.8 970.2,1319.2 971.0,1315.8 971.8,1319.2 976.6,1319.2 977.4,1322.6 982.2,1322.6 983.0,1326.0 983.8,1326.0 984.4,1322.6 984.6,1326.0 985.4,1322.6 986.2,1322.6 987.0,1326.0 995.0,1326.0 995.8,1329.4 996.6,1326.0 997.4,1326.0 998.2,1329.4 999.8,1329.4 1000.6,1326.0 1003.8,1326.0 1004.6,1329.4 1005.4,1326.0 1007.0,1326.0 1007.8,1329.4 1008.6,1326.0 1010.2,1326.0 1011.0,1329.4 1011.8,1326.0 1012.6,1329.4 1013.4,1332.8 1014.2,1329.4 1015.0,1332.8 1015.8,1326.0 1016.0,1329.4 1019.8,1329.4 1020.6,1332.8 1021.4,1329.4 1023.8,1329.4 1024.6,1332.8 1025.4,1329.4 1033.4,1329.4 1034.2,1332.8 1035.0,1332.8 1035.8,1329.4 1036.6,1329.4 1037.4,1332.8 1039.8,1332.8 1040.6,1329.4 1041.4,1332.8 1042.2,1332.8 1043.0,1329.4 1043.8,1329.4 1044.6,1332.8 1048.6,1332.8 1049.4,1329.4 1050.2,1332.8 1053.4,1332.8 1054.2,1336.2 1055.0,1332.8 1056.6,1332.8 1057.4,1336.2 1058.2,1336.2 1059.0,1332.8 1059.8,1336.2 1060.6,1332.8 1061.4,1336.2 1062.2,1332.8 1063.0,1336.2 1067.0,1336.2 1067.8,1339.6 1068.6,1336.2 1069.4,1339.6 1071.0,1339.6 1071.7,1336.2 1075.0,1336.2 1075.8,1339.6 1079.0,1339.6 1079.8,1336.2 1080.6,1336.2 1081.4,1339.6 1085.4,1339.6 1086.2,1343.0 1087.0,1339.6 1087.8,1336.2 1088.6,1336.2 1089.4,1339.6 1094.2,1339.6 1095.0,1343.0 1095.8,1339.6 1096.6,1339.6 1097.4,1343.0 1098.2,1339.6 1110.2,1339.6 1111.0,1336.2 1111.8,1339.6 1119.8,1339.6 1120.6,1343.0 1122.2,1343.0 1123.0,1339.6 1123.8,1336.2 1124.6,1339.6 1127.0,1339.6 1127.8,1343.0 1128.6,1343.0 1129.4,1339.6 1132.6,1339.6 1133.4,1343.0 1134.2,1343.0 1135.0,1339.6 1135.8,1343.0 1136.6,1339.6 1137.4,1343.0 1138.2,1339.6 1139.0,1343.0 1139.8,1343.0 1140.6,1339.6 1141.4,1343.0 1143.4,1343.0 1143.8,1339.6 1144.6,1343.0 1145.4,1343.0 1146.2,1339.6 1147.0,1343.0 1151.0,1343.0 1151.8,1346.4 1152.6,1343.0 1153.4,1339.6 1154.2,1343.0 1155.0,1346.4 1155.8,1343.0 1156.6,1346.4 1158.2,1346.4 1159.0,1343.0 1159.8,1346.4 1160.6,1346.4 1161.4,1343.0 1162.2,1343.0 1163.0,1346.4 1163.8,1346.4 1164.6,1343.0 1165.4,1346.4 1169.4,1346.4 1170.2,1349.8 1171.0,1346.4 1171.8,1346.4 1172.6,1349.8 1179.0,1349.8 1179.8,1346.4 1180.6,1349.8 1186.2,1349.8 1186.5,1353.2 1187.0,1346.4 1187.8,1349.8 1188.6,1349.8 1189.4,1353.2 1190.2,1353.2 1191.0,1349.8 1195.8,1349.8 1196.6,1353.2 1197.4,1353.2 1198.2,1349.8 1199.0,1349.8 1199.8,1353.2 1200.6,1349.8 1201.4,1353.2 1202.2,1353.2 1203.0,1349.8 1208.6,1349.8 1209.4,1353.2 1210.2,1349.8 1211.8,1349.8 1212.6,1353.2 1213.4,1353.2 1214.2,1349.8 1217.4,1349.8 1218.2,1353.2 1219.0,1349.8 1219.8,1349.8 1220.6,1353.2 1221.4,1353.2 1222.2,1349.8 1223.0,1349.8 1223.8,1353.2 1225.4,1353.2 1226.2,1349.8 1227.0,1353.2 1228.6,1353.2 1229.4,1349.8 1230.2,1353.2 1231.0,1353.2 1231.8,1349.8 1235.0,1349.8 1235.8,1353.2 1236.6,1353.2 1237.4,1349.8 1239.0,1349.8 1239.8,1353.2 1240.6,1353.2 1241.4,1349.8 1242.2,1353.2 1243.0,1349.8 1247.0,1349.8 1247.8,1353.2 1249.4,1353.2 1250.2,1349.8 1251.0,1353.2 1251.8,1349.8 1252.6,1353.2 1253.4,1353.2 1254.2,1349.8 1255.0,1353.2 1255.8,1353.2 1256.6,1349.8 1257.4,1353.2 1258.2,1349.8 1259.0,1353.2 1262.2,1353.2 1263.0,1356.6 1263.8,1353.2 1267.0,1353.2 1267.8,1356.6 1268.6,1353.2 1269.4,1353.2 1270.2,1356.6 1271.0,1353.2 1271.8,1356.6 1272.6,1353.2 1273.4,1353.2 1274.2,1356.6 1275.0,1353.2 1275.8,1356.6 1276.6,1353.2 1277.4,1356.6 1278.2,1353.2 1279.0,1353.2 1279.8,1356.6 1280.6,1356.6 1281.4,1353.2 1282.2,1356.6 1283.0,1353.2 1283.8,1356.6 1286.9,1356.6 1287.0,1353.2 1287.8,1360.0 1288.6,1356.6 1289.4,1360.0 1290.2,1356.6 1297.4,1356.6 1298.2,1360.0 1299.0,1356.6 1302.2,1356.6 1303.0,1360.0 1303.8,1356.6 1304.6,1356.6 1305.4,1360.0 1306.2,1356.6 1307.0,1356.6 1307.8,1360.0 1309.4,1360.0 1310.2,1356.6 1311.0,1360.0 1311.8,1356.6 1312.6,1360.0 1317.4,1360.0 1318.2,1363.4 1319.0,1360.0 1321.4,1360.0 1322.2,1363.4 1323.0,1363.4 1323.8,1360.0 1325.4,1360.0 1326.2,1363.4 1327.0,1360.0 1327.8,1363.4 1328.6,1360.0 1329.4,1360.0 1329.9,1363.4 1330.2,1360.0 1331.8,1360.0 1332.6,1363.4 1333.4,1363.4 1334.2,1360.0 1335.0,1363.4 1335.8,1363.4 1336.6,1360.0 1337.4,1363.4 1338.2,1360.0 1339.0,1363.4 1343.0,1363.4 1343.8,1360.0 1344.6,1363.4 1348.6,1363.4 1349.4,1360.0 1350.2,1363.4 1352.6,1363.4 1353.4,1360.0 1354.2,1363.4 1358.2,1363.4 1359.0,1360.0 1359.8,1363.4 1363.0,1363.4 1363.8,1366.8 1364.6,1366.8 1365.4,1363.4 1366.2,1366.8 1367.0,1366.8 1367.8,1363.4 1368.6,1366.8 1369.4,1363.4 1371.8,1363.4 1372.6,1366.8 1372.9,1366.8 1373.4,1363.4 1374.2,1366.8 1375.0,1363.4 1376.6,1363.4 1377.4,1366.8 1378.2,1363.4 1379.0,1363.4 1379.8,1366.8 1380.6,1366.8 1381.4,1363.4 1383.0,1363.4 1383.8,1366.8 1386.2,1366.8 1387.0,1363.4 1387.8,1366.8 1390.2,1366.8 1391.0,1363.4 1391.8,1366.8 1394.2,1366.8 1395.0,1363.4 1395.8,1366.8 1399.8,1366.8 1400.6,1370.2 1401.4,1370.2 1402.2,1366.8 1405.4,1366.8 1406.2,1370.2 1407.0,1370.2 1407.8,1366.8 1408.6,1370.2 1409.4,1366.8 1410.2,1366.8 1411.0,1370.2 1412.6,1370.2 1413.4,1373.6 1414.2,1370.2 1415.0,1370.2 1415.8,1366.8 1416.0,1370.2 1418.2,1370.2 1419.0,1373.6 1419.8,1370.2 1421.4,1370.2 1422.2,1373.6 1427.8,1373.6 1428.6,1377.0 1429.4,1373.6 1431.8,1373.6 1432.6,1377.0 1433.4,1373.6 1434.2,1377.0 1435.8,1377.0 1436.6,1373.6 1437.4,1377.0 1439.8,1377.0 1440.6,1373.6 1441.4,1377.0 1444.6,1377.0 1445.4,1380.4 1446.2,1377.0 1448.6,1377.0 1449.4,1380.4 1450.2,1377.0 1451.0,1377.0 1451.8,1380.4 1457.4,1380.4 1458.2,1383.8 1460.6,1383.8 1461.4,1380.4 1462.2,1383.8 1465.4,1383.8 1466.2,1380.4 1467.0,1387.2 1467.8,1383.8 1468.6,1383.8 1469.4,1387.2 1470.2,1383.8 1473.3,1383.8 1473.4,1387.2 1474.2,1383.8 1475.0,1387.2 1475.8,1383.8 1478.2,1383.8 1479.0,1380.4 1485.4,1380.4 1486.2,1383.8 1487.0,1380.4 1487.8,1383.8 1488.0,1387.2" fill="none" stroke="#ff00ff" stroke-width="6.7" stroke-linejoin="round" stroke-linecap="round"/>

<polyline points="247.3,1508.8 248.0,1527.2 248.1,1531.8 248.9,1522.6 249.7,1527.2 250.5,1527.2 251.3,1522.6 252.1,1527.2 252.9,1527.2 253.7,1531.8 254.5,1527.2 255.3,1527.2 256.1,1522.6 256.9,1527.2 257.7,1531.8 258.5,1527.2 259.3,1522.6 262.5,1522.6 263.3,1531.8 264.1,1527.2 264.9,1531.8 265.7,1527.2 269.7,1527.2 270.5,1522.6 271.3,1522.6 272.1,1527.2 273.7,1527.2 274.5,1522.6 275.3,1527.2 276.1,1522.6 276.9,1522.6 277.7,1527.2 278.5,1522.6 279.3,1527.2 280.1,1527.2 280.9,1522.6 284.1,1522.6 284.9,1527.2 285.7,1522.6 287.3,1522.6 288.1,1527.2 289.7,1527.2 290.5,1522.6 291.3,1527.2 292.1,1522.6 294.5,1522.6 295.3,1527.2 296.1,1527.2 296.9,1522.6 297.7,1527.2 298.5,1527.2 299.3,1522.6 303.3,1522.6 304.1,1527.2 304.9,1518.0 305.7,1522.6 306.5,1527.2 307.3,1527.2 308.1,1522.6 308.9,1527.2 309.7,1522.6 310.5,1522.6 311.3,1527.2 312.1,1518.0 312.9,1527.2 313.7,1518.0 314.5,1527.2 315.3,1527.2 316.1,1522.6 322.5,1522.6 323.3,1527.2 324.1,1522.6 325.7,1522.6 326.5,1527.2 327.3,1522.6 328.9,1522.6 329.7,1527.2 330.5,1522.6 337.7,1522.6 338.5,1527.2 339.3,1527.2 340.1,1522.6 340.9,1522.6 341.7,1527.2 342.5,1522.6 344.1,1522.6 344.9,1527.2 345.7,1522.6 346.5,1522.6 347.3,1527.2 348.1,1518.0 348.9,1522.6 352.1,1522.6 352.9,1518.0 353.7,1522.6 354.5,1522.6 355.3,1527.2 356.1,1527.2 356.9,1522.6 357.7,1527.2 358.5,1522.6 359.3,1522.6 360.1,1527.2 360.9,1522.6 361.7,1522.6 362.5,1527.2 364.1,1527.2 364.9,1522.6 365.7,1522.6 366.5,1527.2 367.3,1522.6 368.1,1527.2 368.9,1522.6 371.3,1522.6 372.1,1527.2 372.9,1522.6 374.5,1522.6 375.3,1527.2 376.1,1522.6 378.5,1522.6 379.3,1527.2 380.9,1527.2 381.7,1522.6 382.5,1522.6 383.3,1527.2 384.1,1522.6 384.9,1522.6 385.7,1527.2 386.5,1522.6 392.9,1522.6 393.7,1527.2 394.5,1522.6 396.1,1522.6 396.9,1518.0 397.7,1522.6 398.5,1527.2 400.1,1527.2 400.9,1522.6 401.7,1522.6 402.5,1527.2 403.3,1522.6 404.1,1522.6 404.9,1527.2 407.3,1527.2 408.1,1522.6 408.9,1527.2 409.7,1522.6 410.5,1527.2 411.3,1522.6 412.1,1527.2 412.9,1522.6 413.7,1527.2 414.5,1522.6 416.1,1522.6 416.9,1527.2 417.7,1522.6 419.3,1522.6 420.1,1527.2 420.9,1522.6 421.7,1522.6 422.5,1527.2 423.3,1522.6 424.1,1527.2 424.9,1522.6 425.7,1522.6 426.5,1527.2 429.7,1527.2 430.5,1522.6 431.3,1522.6 432.1,1527.2 434.5,1527.2 435.3,1522.6 436.1,1527.2 437.7,1527.2 438.0,1522.6 440.1,1522.6 440.9,1518.0 444.9,1518.0 445.7,1522.6 446.5,1518.0 448.9,1518.0 449.7,1513.4 450.5,1518.0 452.1,1518.0 452.9,1522.6 453.7,1518.0 454.5,1522.6 455.3,1518.0 456.1,1518.0 456.9,1513.4 457.7,1518.0 458.5,1518.0 459.3,1513.4 460.1,1522.6 460.9,1518.0 469.7,1518.0 470.5,1513.4 471.3,1513.4 472.1,1518.0 472.9,1518.0 473.7,1513.4 474.5,1518.0 475.3,1518.0 476.1,1513.4 476.9,1513.4 477.7,1518.0 483.3,1518.0 484.1,1513.4 484.9,1513.4 485.7,1518.0 486.5,1513.4 487.3,1518.0 488.1,1518.0 488.9,1513.4 489.7,1518.0 490.5,1513.4 491.3,1518.0 492.1,1518.0 492.9,1513.4 493.7,1513.4 494.5,1518.0 495.3,1513.4 496.1,1518.0 496.9,1513.4 497.7,1518.0 500.1,1518.0 500.9,1513.4 501.7,1518.0 504.1,1518.0 504.9,1513.4 505.7,1513.4 506.5,1518.0 507.3,1518.0 508.1,1513.4 508.9,1518.0 509.7,1518.0 510.5,1513.4 514.5,1513.4 515.3,1518.0 515.5,1513.4 516.1,1518.0 516.9,1513.4 519.3,1513.4 520.1,1508.8 520.9,1513.4 521.0,1513.4 521.7,1508.8 522.5,1508.8 523.3,1513.4 524.1,1513.4 524.9,1508.8 525.7,1508.8 526.5,1513.4 528.1,1513.4 528.9,1508.8 529.7,1513.4 530.5,1508.8 531.3,1513.4 536.1,1513.4 536.9,1508.8 538.5,1508.8 539.3,1513.4 540.1,1513.4 540.9,1508.8 541.7,1508.8 542.5,1513.4 543.3,1508.8 544.1,1513.4 544.9,1513.4 545.7,1508.8 547.3,1508.8 548.1,1518.0 548.9,1513.4 549.7,1508.8 550.5,1508.8 551.3,1513.4 555.3,1513.4 556.1,1508.8 556.9,1513.4 558.5,1513.4 559.3,1508.8 560.1,1513.4 560.9,1508.8 561.7,1513.4 562.5,1508.8 563.3,1513.4 566.5,1513.4 567.3,1508.8 568.1,1508.8 568.9,1513.4 569.7,1513.4 570.5,1508.8 571.3,1513.4 572.1,1513.4 572.9,1508.8 573.7,1513.4 574.5,1508.8 575.3,1508.8 576.1,1513.4 576.9,1518.0 577.7,1513.4 578.5,1508.8 580.9,1508.8 581.7,1513.4 582.5,1508.8 583.3,1508.8 584.1,1513.4 584.9,1513.4 585.7,1508.8 586.5,1508.8 587.3,1513.4 590.5,1513.4 591.3,1508.8 592.1,1513.4 592.9,1508.8 593.7,1513.4 594.5,1513.4 595.3,1508.8 596.1,1508.8 596.9,1513.4 597.7,1508.8 600.1,1508.8 600.9,1518.0 601.6,1508.8 601.7,1513.4 602.5,1508.8 603.3,1508.8 604.1,1504.2 605.7,1504.2 606.5,1499.6 607.3,1504.2 608.1,1499.6 608.9,1508.8 609.7,1508.8 610.5,1504.2 612.1,1504.2 612.9,1499.6 613.7,1504.2 615.3,1504.2 616.1,1508.8 616.9,1504.2 618.5,1504.2 619.3,1508.8 620.1,1504.2 621.7,1504.2 621.7,1499.6 622.5,1504.2 623.3,1504.2 624.1,1499.6 628.1,1499.6 628.9,1495.0 630.5,1495.0 631.3,1490.4 632.1,1495.0 632.9,1490.4 633.7,1490.4 634.5,1485.8 637.7,1485.8 638.5,1490.4 639.3,1485.8 640.1,1485.8 640.9,1481.2 641.7,1481.2 641.8,1485.8 642.5,1481.2 643.3,1481.2 644.1,1476.6 645.7,1476.6 646.5,1472.0 648.9,1472.0 649.7,1467.4 651.3,1467.4 652.1,1462.8 653.7,1462.8 654.5,1458.2 655.3,1458.2 656.1,1453.6 656.9,1453.6 657.7,1449.0 658.5,1449.0 659.3,1444.4 660.1,1439.8 660.9,1444.4 661.7,1439.8 664.9,1439.8 665.7,1435.2 668.5,1435.2 668.9,1430.6 669.7,1435.2 672.9,1435.2 673.7,1439.8 674.5,1444.4 677.7,1444.4 678.5,1449.0 679.3,1453.6 680.1,1453.6 680.9,1458.2 681.7,1458.2 682.5,1462.8 684.0,1462.8 684.1,1467.4 684.9,1467.4 685.7,1472.0 688.1,1472.0 688.9,1476.6 689.7,1481.2 691.3,1481.2 691.8,1485.8 692.1,1485.8 692.9,1481.2 694.5,1481.2 695.3,1485.8 696.1,1481.2 696.9,1485.8 701.7,1485.8 702.5,1481.2 704.1,1481.2 704.9,1476.6 705.7,1481.2 707.3,1481.2 708.1,1476.6 708.9,1481.2 709.7,1481.2 710.5,1476.6 712.1,1476.6 712.9,1472.0 716.9,1472.0 717.7,1467.4 720.9,1467.4 721.7,1462.8 722.5,1467.4 723.3,1467.4 724.1,1462.8 728.1,1462.8 728.9,1458.2 732.1,1458.2 732.9,1453.6 737.7,1453.6 737.7,1449.0 741.7,1449.0 742.5,1444.4 743.3,1449.0 744.1,1444.4 744.9,1444.4 745.7,1439.8 746.5,1444.4 747.3,1439.8 749.2,1439.8 749.7,1444.4 750.5,1439.8 753.7,1439.8 754.5,1435.2 760.6,1435.2 760.9,1430.6 761.7,1435.2 762.5,1439.8 763.3,1435.2 767.3,1435.2 768.1,1439.8 768.9,1435.2 771.3,1435.2 772.1,1430.6 772.1,1435.2 775.3,1435.2 776.1,1439.8 776.9,1435.2 777.7,1439.8 779.3,1439.8 780.1,1444.4 780.7,1444.4 780.9,1439.8 781.7,1444.4 784.9,1444.4 785.7,1449.0 787.3,1449.0 788.1,1453.6 790.5,1453.6 791.3,1458.2 792.9,1458.2 793.7,1462.8 795.3,1462.8 796.1,1467.4 798.5,1467.4 799.3,1472.0 800.9,1472.0 801.7,1476.6 804.1,1476.6 804.9,1481.2 805.7,1481.2 806.5,1485.8 808.1,1485.8 808.9,1490.4 809.4,1485.8 809.7,1490.4 812.9,1490.4 813.7,1495.0 819.3,1495.0 820.1,1499.6 820.9,1495.0 820.9,1490.4 821.7,1495.0 822.5,1495.0 823.3,1499.6 824.1,1495.0 824.9,1499.6 825.7,1495.0 826.5,1499.6 827.3,1499.6 828.1,1495.0 828.9,1495.0 829.7,1499.6 830.5,1495.0 831.3,1495.0 832.1,1499.6 835.3,1499.6 836.1,1495.0 838.1,1495.0 838.5,1499.6 840.9,1499.6 841.7,1495.0 842.5,1499.6 844.1,1499.6 844.9,1495.0 845.7,1495.0 846.5,1499.6 847.3,1499.6 848.1,1495.0 848.9,1499.6 851.3,1499.6 852.1,1495.0 852.9,1495.0 853.7,1499.6 854.5,1495.0 855.3,1495.0 856.1,1499.6 856.9,1495.0 857.7,1495.0 858.5,1490.4 859.3,1495.0 861.7,1495.0 862.5,1490.4 864.9,1490.4 865.7,1485.8 866.5,1490.4 867.3,1485.8 868.1,1490.4 868.9,1485.8 869.7,1485.8 870.5,1481.2 875.3,1481.2 875.4,1476.6 876.9,1476.6 877.7,1481.2 878.5,1476.6 888.9,1476.6 889.7,1472.0 890.5,1476.6 891.3,1472.0 892.1,1472.0 892.9,1476.6 893.7,1476.6 894.5,1472.0 895.3,1476.6 899.3,1476.6 900.1,1472.0 900.9,1472.0 901.7,1476.6 905.7,1476.6 906.5,1481.2 907.3,1476.6 908.1,1481.2 908.9,1481.2 909.7,1485.8 909.8,1481.2 910.5,1481.2 911.3,1485.8 912.9,1485.8 913.7,1490.4 914.5,1485.8 915.3,1490.4 917.7,1490.4 918.5,1495.0 921.7,1495.0 922.5,1499.6 924.1,1499.6 924.2,1504.2 924.9,1499.6 925.7,1499.6 926.5,1504.2 927.3,1499.6 928.1,1504.2 928.9,1499.6 929.7,1499.6 930.5,1504.2 931.3,1499.6 932.1,1504.2 934.5,1504.2 935.3,1508.8 936.1,1504.2 943.3,1504.2 944.1,1508.8 944.2,1508.8 944.9,1513.4 945.7,1508.8 948.1,1508.8 948.9,1504.2 949.7,1513.4 950.5,1513.4 951.3,1508.8 954.5,1508.8 955.3,1513.4 956.1,1513.4 956.9,1508.8 957.7,1508.8 958.5,1513.4 959.3,1508.8 962.5,1508.8 963.3,1513.4 964.1,1513.4 964.9,1508.8 965.7,1513.4 966.5,1508.8 968.1,1508.8 968.9,1513.4 969.7,1513.4 970.5,1508.8 972.1,1508.8 972.9,1513.4 973.7,1513.4 974.5,1508.8 975.3,1513.4 976.1,1513.4 976.9,1508.8 977.7,1508.8 978.5,1513.4 979.3,1513.4 980.1,1508.8 980.9,1508.8 981.7,1513.4 982.5,1508.8 983.3,1513.4 984.1,1513.4 984.9,1508.8 986.5,1508.8 987.3,1513.4 988.1,1513.4 988.9,1508.8 989.7,1518.0 990.5,1508.8 991.3,1513.4 996.1,1513.4 996.9,1508.8 997.7,1508.8 998.5,1513.4 1004.1,1513.4 1004.9,1508.8 1005.7,1513.4 1010.5,1513.4 1011.3,1508.8 1012.1,1513.4 1012.9,1518.0 1013.7,1513.4 1014.5,1518.0 1015.3,1513.4 1023.3,1513.4 1024.1,1518.0 1024.9,1518.0 1025.7,1513.4 1026.5,1518.0 1027.3,1513.4 1028.1,1518.0 1029.7,1518.0 1030.3,1513.4 1030.5,1518.0 1031.3,1513.4 1032.9,1513.4 1033.7,1518.0 1034.5,1513.4 1035.3,1518.0 1036.1,1513.4 1036.9,1513.4 1037.7,1518.0 1038.5,1513.4 1044.1,1513.4 1044.9,1508.8 1045.7,1513.4 1047.5,1513.4 1048.1,1508.8 1048.9,1508.8 1049.7,1513.4 1050.5,1513.4 1051.3,1508.8 1052.1,1508.8 1052.9,1518.0 1053.7,1513.4 1054.5,1508.8 1055.3,1513.4 1056.1,1513.4 1056.9,1508.8 1057.7,1513.4 1060.1,1513.4 1060.9,1518.0 1061.7,1518.0 1062.5,1513.4 1063.3,1508.8 1064.1,1513.4 1064.9,1508.8 1065.7,1513.4 1068.9,1513.4 1069.7,1508.8 1070.5,1508.8 1071.3,1513.4 1072.1,1513.4 1072.9,1508.8 1073.7,1508.8 1074.5,1513.4 1076.1,1513.4 1076.9,1508.8 1077.7,1513.4 1078.5,1513.4 1079.3,1508.8 1080.1,1513.4 1081.7,1513.4 1082.5,1508.8 1083.3,1508.8 1084.1,1513.4 1091.3,1513.4 1092.1,1508.8 1092.9,1513.4 1093.7,1508.8 1094.5,1508.8 1095.3,1513.4 1096.1,1508.8 1097.7,1508.8 1098.5,1513.4 1101.7,1513.4 1102.5,1508.8 1103.3,1513.4 1104.1,1508.8 1104.9,1513.4 1105.7,1508.8 1106.5,1513.4 1108.1,1513.4 1108.9,1508.8 1109.0,1513.4 1110.5,1513.4 1111.3,1518.0 1111.9,1518.0 1112.1,1513.4 1112.9,1518.0 1114.5,1518.0 1115.3,1513.4 1116.1,1518.0 1124.1,1518.0 1124.9,1513.4 1125.7,1518.0 1126.5,1513.4 1127.3,1518.0 1128.1,1518.0 1128.9,1513.4 1132.9,1513.4 1133.7,1518.0 1134.5,1513.4 1135.3,1518.0 1136.1,1513.4 1136.9,1518.0 1137.7,1513.4 1138.5,1513.4 1139.3,1518.0 1140.0,1513.4 1141.7,1513.4 1142.5,1508.8 1143.3,1513.4 1145.7,1513.4 1146.5,1508.8 1147.3,1513.4 1149.7,1513.4 1150.5,1518.0 1151.3,1513.4 1152.9,1513.4 1153.7,1518.0 1154.5,1513.4 1156.1,1513.4 1156.9,1508.8 1157.7,1513.4 1159.3,1513.4 1160.1,1518.0 1160.9,1508.8 1161.7,1513.4 1164.9,1513.4 1165.7,1518.0 1166.5,1513.4 1167.3,1518.0 1168.1,1513.4 1168.9,1518.0 1172.9,1518.0 1173.7,1522.6 1174.5,1522.6 1175.3,1518.0 1176.1,1522.6 1176.9,1518.0 1177.7,1518.0 1178.5,1513.4 1179.3,1518.0 1180.1,1518.0 1180.9,1522.6 1181.7,1518.0 1186.5,1518.0 1187.3,1522.6 1188.1,1518.0 1189.7,1518.0 1190.5,1522.6 1191.3,1518.0 1196.1,1518.0 1196.9,1522.6 1197.7,1518.0 1198.5,1522.6 1199.3,1518.0 1200.1,1518.0 1200.9,1522.6 1201.7,1522.6 1202.5,1518.0 1203.3,1522.6 1204.1,1518.0 1212.1,1518.0 1212.9,1522.6 1213.7,1518.0 1218.5,1518.0 1219.3,1522.6 1220.1,1518.0 1220.9,1522.6 1221.7,1518.0 1222.5,1513.4 1223.3,1518.0 1224.9,1518.0 1225.7,1522.6 1226.5,1518.0 1232.9,1518.0 1233.7,1522.6 1234.5,1518.0 1235.3,1513.4 1236.1,1518.0 1242.5,1518.0 1243.3,1522.6 1244.1,1513.4 1244.9,1518.0 1245.7,1522.6 1246.5,1518.0 1256.1,1518.0 1256.9,1513.4 1257.7,1518.0 1260.1,1518.0 1260.9,1522.6 1261.7,1518.0 1265.7,1518.0 1266.5,1522.6 1268.1,1522.6 1268.9,1518.0 1269.7,1522.6 1273.7,1522.6 1274.5,1527.2 1276.9,1527.2 1277.7,1522.6 1278.5,1527.2 1280.1,1527.2 1280.9,1522.6 1281.7,1522.6 1282.5,1527.2 1284.1,1527.2 1284.9,1522.6 1286.5,1522.6 1287.3,1527.2 1288.1,1522.6 1288.9,1527.2 1291.3,1527.2 1292.1,1522.6 1292.9,1527.2 1293.7,1527.2 1294.5,1522.6 1295.3,1531.8 1296.1,1522.6 1296.9,1527.2 1297.7,1522.6 1298.5,1522.6 1299.3,1527.2 1300.1,1527.2 1300.9,1522.6 1301.7,1527.2 1302.5,1527.2 1303.3,1522.6 1304.1,1527.2 1304.9,1527.2 1305.7,1522.6 1306.5,1522.6 1307.3,1527.2 1311.3,1527.2 1312.1,1522.6 1312.9,1527.2 1314.5,1527.2 1315.3,1522.6 1316.1,1527.2 1322.5,1527.2 1323.3,1522.6 1324.1,1522.6 1324.5,1527.2 1324.9,1522.6 1325.7,1508.8 1326.4,1504.2 1329.0,1504.2 1329.7,1513.4 1330.5,1522.6 1331.0,1527.2 1331.3,1527.2 1332.1,1522.6 1332.9,1527.2 1333.7,1527.2 1334.5,1531.8 1335.3,1527.2 1336.1,1531.8 1344.2,1531.8 1344.9,1536.4 1345.7,1531.8 1347.3,1531.8 1348.1,1536.4 1348.9,1531.8 1359.3,1531.8 1360.1,1527.2 1360.9,1536.4 1361.7,1531.8 1365.7,1531.8 1366.5,1536.4 1367.3,1536.4 1368.1,1531.8 1377.7,1531.8 1378.5,1536.4 1379.3,1531.8 1380.1,1536.4 1380.9,1531.8 1381.7,1527.2 1382.5,1531.8 1386.5,1531.8 1387.3,1527.2 1388.1,1531.8 1392.1,1531.8 1392.9,1536.4 1393.7,1536.4 1394.5,1531.8 1396.1,1531.8 1396.9,1536.4 1397.7,1536.4 1398.5,1531.8 1399.3,1536.4 1400.1,1531.8 1400.9,1536.4 1402.5,1536.4 1403.3,1531.8 1404.1,1531.8 1404.9,1536.4 1405.7,1536.4 1406.5,1531.8 1408.1,1531.8 1408.9,1536.4 1409.7,1531.8 1411.3,1531.8 1412.1,1536.4 1412.9,1531.8 1413.7,1527.2 1414.5,1531.8 1415.3,1531.8 1416.1,1536.4 1417.7,1536.4 1418.5,1531.8 1420.9,1531.8 1421.7,1536.4 1422.5,1531.8 1423.3,1536.4 1425.7,1536.4 1426.5,1531.8 1428.1,1531.8 1428.9,1536.4 1429.7,1531.8 1432.9,1531.8 1433.7,1527.2 1434.5,1536.4 1437.7,1536.4 1438.5,1531.8 1440.1,1531.8 1440.9,1536.4 1441.7,1531.8 1442.5,1531.8 1443.3,1536.4 1444.1,1536.4 1444.9,1531.8 1447.3,1531.8 1448.1,1536.4 1448.9,1531.8 1449.7,1531.8 1450.5,1536.4 1451.3,1531.8 1452.1,1531.8 1452.9,1536.4 1453.7,1531.8 1454.5,1536.4 1455.3,1531.8 1457.7,1531.8 1458.5,1536.4 1459.3,1531.8 1461.7,1531.8 1462.5,1536.4 1463.3,1531.8 1464.1,1531.8 1464.9,1536.4 1465.7,1531.8 1467.3,1531.8 1468.1,1536.4 1468.9,1531.8 1469.7,1531.8 1470.5,1536.4 1471.3,1531.8 1472.1,1531.8 1472.9,1536.4 1473.7,1531.8 1474.5,1527.2 1475.3,1531.8 1481.7,1531.8 1482.5,1536.4 1483.3,1531.8 1484.1,1536.4 1484.9,1531.8 1487.3,1531.8 1488.1,1536.4 1488.9,1531.8 1489.7,1536.4 1490.5,1536.4 1491.3,1531.8 1492.1,1531.8 1492.9,1536.4 1493.7,1531.8 1494.5,1527.2 1495.3,1531.8 1497.7,1531.8 1498.5,1527.2 1499.3,1531.8 1500.1,1531.8 1500.9,1536.4 1501.7,1531.8 1502.5,1531.8 1503.3,1536.4 1504.0,1531.8 1504.1,1531.8 1504.9,1508.8 1505.5,1499.6 1505.7,1499.6 1506.5,1518.0 1507.0,1527.2 1507.3,1527.2 1508.1,1531.8 1508.9,1531.8 1509.7,1536.4 1510.5,1541.0 1511.0,1536.4" fill="none" stroke="#000000" stroke-width="6.6" stroke-linejoin="round" stroke-linecap="round"/>

</g>
<line x1="605.3" y1="243.4" x2="608.8" y2="286.4" stroke="#000" stroke-width="2"/>
<line x1="1185.9" y1="157.4" x2="1185.9" y2="199" stroke="#000" stroke-width="2"/>
<line x1="762" y1="184.1" x2="758.3" y2="1567.5" stroke="#000" stroke-width="2.7" stroke-dasharray="9.6 3.2 2.6 3.2" fill="none"/>
<line x1="799.8" y1="432.8" x2="806.5" y2="1547" stroke="#000" stroke-width="2.7" stroke-dasharray="9.6 3.2 2.6 3.2" fill="none"/>
<line x1="846.3" y1="966.9" x2="858.2" y2="1547" stroke="#000" stroke-width="2.7" stroke-dasharray="9.6 3.2 2.6 3.2" fill="none"/>
<text transform="translate(207.9,1650.3) scale(1,1.04)" font-size="75.3" text-anchor="middle" stroke="#000" stroke-width="0.7">0</text>
<text transform="translate(493.9,1650.3) scale(1,1.04)" font-size="75.3" text-anchor="middle" stroke="#000" stroke-width="0.7">200</text>
<text transform="translate(779.9,1650.3) scale(1,1.04)" font-size="75.3" text-anchor="middle" stroke="#000" stroke-width="0.7">400</text>
<text transform="translate(1065.9,1650.3) scale(1,1.04)" font-size="75.3" text-anchor="middle" stroke="#000" stroke-width="0.7">600</text>
<text transform="translate(1351.9,1650.3) scale(1,1.04)" font-size="75.3" text-anchor="middle" stroke="#000" stroke-width="0.7">800</text>
<text transform="translate(1637.9,1650.3) scale(1,1.04)" font-size="75.3" text-anchor="middle" stroke="#000" stroke-width="0.7">1000</text>
<text transform="translate(922.6,1794.3) scale(1,1.045)" font-size="92.8" text-anchor="middle" stroke="#000" stroke-width="0.7">Temperature, °C</text>
<text transform="translate(138,781) rotate(-90) scale(1,1.045)" font-size="93.4" text-anchor="middle" stroke="#000" stroke-width="0.7">TCD signal</text>
<text transform="translate(255,211.8) scale(1,1.04)" font-size="67" stroke="#000" stroke-width="0.7">10000</text>
<text transform="translate(627.6,400) rotate(-90) scale(1,1.04)" font-size="67" stroke="#000" stroke-width="0.7">278</text>
<text transform="translate(775,430.2) rotate(-90) scale(1,1.04)" font-size="67" stroke="#000" stroke-width="0.7">388</text>
<text transform="translate(1205.2,311.8) rotate(-90) scale(1,1.04)" font-size="67" stroke="#000" stroke-width="0.7">682</text>
<text transform="translate(830.3,1309.3) rotate(-90) scale(1,1.04)" font-size="67" stroke="#000" stroke-width="0.7">412</text>
<text transform="translate(891.6,1347.8) rotate(-90) scale(1,1.04)" font-size="67" stroke="#000" stroke-width="0.7">447</text>
<text transform="translate(706.2,1425.5) rotate(-90) scale(1,1.04)" font-size="67" stroke="#000" stroke-width="0.7">325</text>
<text transform="translate(937.6,1472) rotate(-90) scale(1,1.04)" font-size="67" stroke="#000" stroke-width="0.7">480</text>
<text transform="translate(1334.2,250.8) scale(1,1.045)" font-size="66.4" stroke="#000" stroke-width="0.7">Com</text>
<text transform="translate(1351.5,447.2) scale(1,1.045)" font-size="66.4" stroke="#000" stroke-width="0.7">CoO<tspan font-size="42.0" dy="16.8">x</tspan><tspan dy="-16.8">-2</tspan></text>
<text transform="translate(1212.6,605.6) scale(1,1.045)" font-size="66.4" stroke="#000" stroke-width="0.7">CoMnO<tspan font-size="42.0" dy="16.8">x</tspan><tspan dy="-16.8">-0.3</tspan></text>
<text transform="translate(1213.2,744.2) scale(1,1.045)" font-size="66.4" stroke="#000" stroke-width="0.7">CoMnO<tspan font-size="42.0" dy="16.8">x</tspan><tspan dy="-16.8">-0.2</tspan></text>
<text transform="translate(1230.4,872.1) scale(1,1.045)" font-size="66.4" stroke="#000" stroke-width="0.7">CoMnO<tspan font-size="42.0" dy="25.5">x</tspan><tspan dy="-25.5">-0.1</tspan></text>
<text transform="translate(1308.6,1030.3) scale(1,1.045)" font-size="66.4" stroke="#000" stroke-width="0.7">MnO<tspan font-size="42.0" dy="24.7">x</tspan><tspan dy="-24.7">-0.3</tspan></text>
<text transform="translate(1304.3,1202.9) scale(1,1.045)" font-size="66.4" stroke="#000" stroke-width="0.7">MnO<tspan font-size="42.0" dy="24.7">x</tspan><tspan dy="-24.7">-0.2</tspan></text>
<text transform="translate(1314.9,1347.2) scale(1,1.045)" font-size="66.4" stroke="#000" stroke-width="0.7">MnO<tspan font-size="42.0" dy="24.7">x</tspan><tspan dy="-24.7">-0.1</tspan></text>
<text transform="translate(1348.8,1475.5) scale(1,1.045)" font-size="66.4" stroke="#000" stroke-width="0.7">MnO<tspan font-size="42.0" dy="16.8">x</tspan><tspan dy="-16.8">-2</tspan></text>
</svg>
</body></html>
